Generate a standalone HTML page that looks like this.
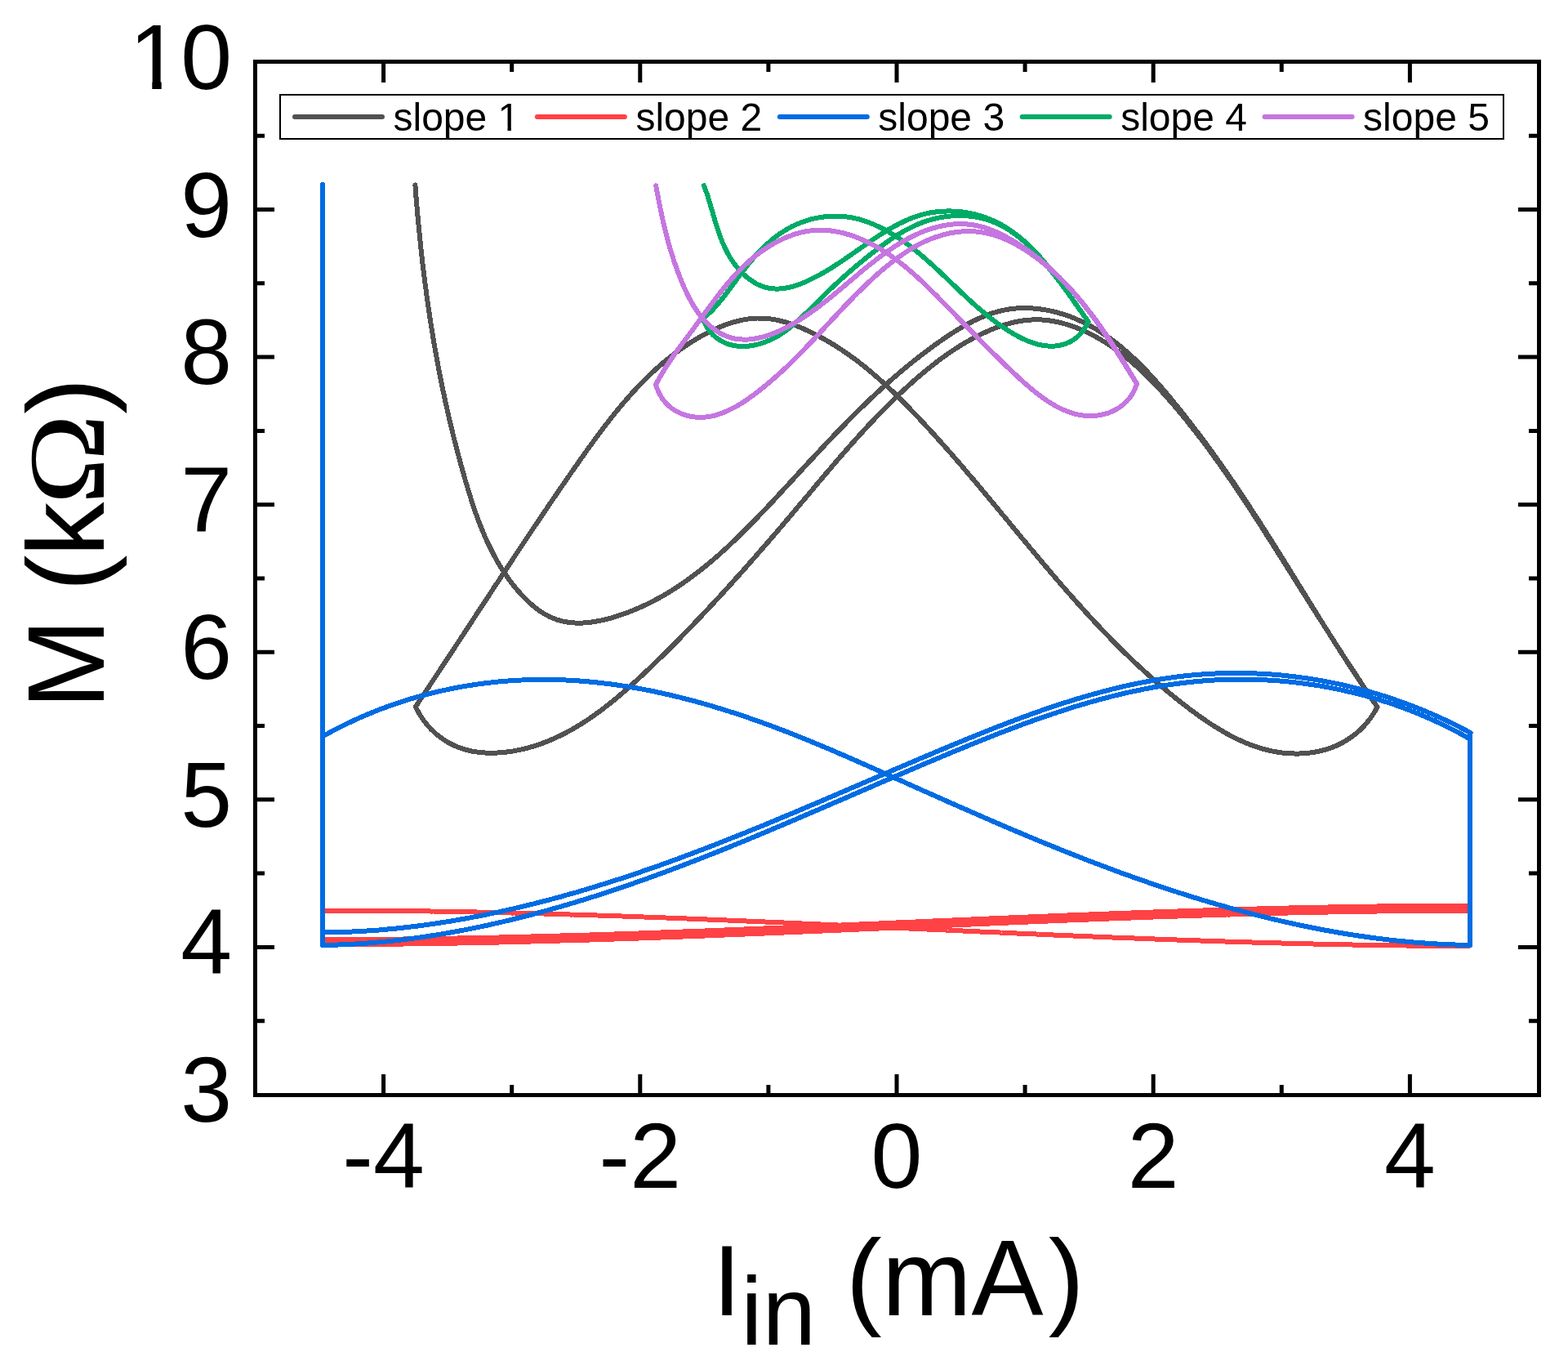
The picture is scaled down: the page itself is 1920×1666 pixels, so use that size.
<!DOCTYPE html>
<html><head><meta charset="utf-8"><style>
html,body{margin:0;padding:0;background:#fff;}
svg{display:block;}
text{font-family:"Liberation Sans",Arial,sans-serif;fill:#000;}
</style></head><body>
<svg xmlns="http://www.w3.org/2000/svg" width="1920" height="1666" viewBox="0 0 1920 1666">
<rect width="1920" height="1666" fill="#fff"/>
<defs><clipPath id="nofoot"><path clip-rule="evenodd" d="M0 0H1920V1666H0Z M150 99.7H186.3V113H150Z M197.7 99.7H220V113H197.7Z M610 155.6H621.5V161H610Z M625.9 155.6H636V161H625.9Z"/></clipPath></defs>
<g fill="none" stroke-linecap="round" stroke-linejoin="round" shape-rendering="crispEdges">
<path d="M508.4 226.5L508.6 229.5L508.8 232.5L509.1 235.4L509.3 238.4L509.5 241.4L509.8 244.4L510.0 247.4L510.3 250.3L510.5 253.3L510.8 256.3L511.0 259.3L511.3 262.3L511.6 265.3L511.8 268.2L512.1 271.2L512.4 274.2L512.7 277.2L513.0 280.2L513.3 283.2L513.6 286.2L513.9 289.2L514.2 292.2L514.5 295.1L514.8 298.1L515.1 301.1L515.4 304.1L515.7 307.1L516.1 310.1L516.4 313.1L516.8 316.1L517.1 319.1L517.4 322.1L517.8 325.0L518.2 328.0L518.5 331.0L518.9 334.0L519.3 337.0L519.6 340.0L520.0 343.0L520.4 346.0L520.8 349.0L521.2 351.9L521.6 354.9L522.0 357.9L522.4 360.9L522.8 363.9L523.2 366.9L523.6 369.8L524.1 372.8L524.5 375.8L524.9 378.8L525.4 381.8L525.8 384.7L526.3 387.7L526.7 390.7L527.2 393.7L527.6 396.6L528.1 399.6L528.6 402.6L529.1 405.5L529.6 408.5L530.0 411.5L530.5 414.4L531.0 417.4L531.5 420.4L532.1 423.3L532.6 426.3L533.1 429.2L533.6 432.2L534.1 435.1L534.7 438.1L535.2 441.0L535.8 444.0L536.3 446.9L536.9 449.9L537.4 452.8L538.0 455.8L538.6 458.7L539.2 461.6L539.7 464.6L540.3 467.5L540.9 470.4L541.5 473.3L542.1 476.3L542.7 479.2L543.4 482.1L544.0 485.0L544.6 488.0L545.2 490.9L545.9 493.8L546.5 496.7L547.2 499.6L547.8 502.5L548.5 505.4L549.1 508.3L549.8 511.3L550.5 514.2L551.2 517.1L551.9 520.0L552.6 522.9L553.3 525.8L554.0 528.7L554.7 531.6L555.4 534.5L556.1 537.4L556.9 540.3L557.6 543.2L558.3 546.1L559.1 549.0L559.9 551.9L560.6 554.8L561.4 557.6L562.2 560.5L562.9 563.4L563.7 566.3L564.5 569.2L565.3 572.1L566.1 575.0L566.9 577.9L567.8 580.8L568.6 583.7L569.4 586.6L570.3 589.5L571.1 592.4L572.0 595.3L572.8 598.1L573.7 601.0L574.6 603.9L575.5 606.8L576.4 609.7L577.3 612.5L578.2 615.4L579.2 618.3L580.1 621.1L581.1 624.0L582.1 626.9L583.1 629.7L584.1 632.5L585.2 635.4L586.2 638.2L587.3 641.0L588.4 643.8L589.5 646.6L590.7 649.4L591.8 652.2L593.0 655.0L594.2 657.7L595.4 660.5L596.7 663.2L598.0 666.0L599.3 668.7L600.6 671.4L602.0 674.1L603.3 676.8L604.7 679.4L606.2 682.1L607.6 684.7L609.1 687.4L610.7 690.0L612.2 692.6L613.8 695.2L615.4 697.7L617.1 700.3L618.8 702.8L620.5 705.3L622.3 707.8L624.0 710.3L625.9 712.8L627.7 715.2L629.6 717.6L631.6 720.0L633.6 722.4L635.6 724.7L637.6 727.0L639.7 729.3L641.8 731.5L644.0 733.7L646.2 735.8L648.4 737.9L650.7 739.9L653.0 741.8L655.3 743.7L657.7 745.5L660.1 747.3L662.5 748.9L665.0 750.5L667.5 752.0L670.0 753.4L672.6 754.7L675.2 755.9L677.8 757.0L680.4 758.0L683.1 758.9L685.9 759.7L688.6 760.4L691.4 761.0L694.2 761.5L697.0 761.9L699.8 762.2L702.7 762.4L705.6 762.6L708.5 762.6L711.4 762.6L714.3 762.5L717.3 762.3L720.2 762.0L723.2 761.7L726.1 761.3L729.1 760.8L732.0 760.3L735.0 759.7L738.0 759.1L740.9 758.4L743.9 757.7L746.8 756.9L749.8 756.1L752.7 755.2L755.6 754.3L758.5 753.3L761.4 752.3L764.3 751.3L767.2 750.3L770.0 749.2L772.8 748.1L775.6 747.0L778.4 745.8L781.2 744.6L784.0 743.4L786.7 742.2L789.4 740.9L792.1 739.6L794.8 738.3L797.5 737.0L800.2 735.6L802.8 734.2L805.4 732.8L808.1 731.3L810.7 729.9L813.2 728.4L815.8 726.9L818.4 725.3L820.9 723.8L823.5 722.2L826.0 720.6L828.5 719.0L831.0 717.3L833.5 715.7L835.9 714.0L838.4 712.3L840.8 710.6L843.3 708.8L845.7 707.1L848.1 705.3L850.5 703.5L852.9 701.7L855.2 699.9L857.6 698.0L859.9 696.2L862.3 694.3L864.6 692.4L866.9 690.5L869.2 688.6L871.5 686.6L873.8 684.7L876.1 682.7L878.4 680.8L880.6 678.8L882.9 676.8L885.1 674.7L887.4 672.7L889.6 670.7L891.8 668.6L894.0 666.6L896.2 664.5L898.4 662.4L900.6 660.3L902.8 658.2L905.0 656.1L907.1 654.0L909.3 651.9L911.4 649.7L913.6 647.6L915.7 645.4L917.9 643.3L920.0 641.1L922.1 638.9L924.2 636.8L926.3 634.6L928.4 632.4L930.5 630.2L932.6 628.0L934.7 625.8L936.8 623.6L938.9 621.4L941.0 619.2L943.0 617.0L945.1 614.8L947.2 612.6L949.3 610.3L951.3 608.1L953.4 605.9L955.4 603.7L957.5 601.5L959.5 599.2L961.6 597.0L963.6 594.8L965.7 592.6L967.7 590.4L969.8 588.2L971.8 586.0L973.8 583.7L975.9 581.5L977.9 579.3L980.0 577.1L982.0 574.9L984.0 572.7L986.1 570.5L988.1 568.3L990.1 566.1L992.2 563.9L994.2 561.7L996.3 559.5L998.3 557.3L1000.3 555.1L1002.4 553.0L1004.4 550.8L1006.5 548.6L1008.5 546.4L1010.5 544.2L1012.6 542.1L1014.6 539.9L1016.7 537.7L1018.8 535.6L1020.8 533.4L1022.9 531.3L1024.9 529.1L1027.0 527.0L1029.1 524.8L1031.2 522.7L1033.2 520.6L1035.3 518.5L1037.4 516.3L1039.5 514.2L1041.6 512.1L1043.7 510.0L1045.8 507.9L1047.9 505.8L1050.0 503.7L1052.1 501.6L1054.2 499.5L1056.4 497.4L1058.5 495.4L1060.6 493.3L1062.8 491.2L1064.9 489.2L1067.1 487.1L1069.3 485.1L1071.4 483.1L1073.6 481.0L1075.8 479.0L1078.0 477.0L1080.2 475.0L1082.4 473.0L1084.6 471.0L1086.8 469.0L1089.1 467.0L1091.3 465.0L1093.5 463.1L1095.8 461.1L1098.1 459.2L1100.3 457.2L1102.6 455.3L1104.9 453.3L1107.2 451.4L1109.5 449.5L1111.8 447.6L1114.2 445.7L1116.5 443.8L1118.8 441.9L1121.2 440.1L1123.6 438.2L1126.0 436.3L1128.3 434.5L1130.7 432.7L1133.2 430.8L1135.6 429.0L1138.0 427.2L1140.5 425.4L1142.9 423.6L1145.4 421.8L1147.9 420.1L1150.4 418.3L1152.9 416.5L1155.4 414.8L1157.9 413.1L1160.5 411.4L1163.0 409.7L1165.6 408.0L1168.2 406.4L1170.7 404.8L1173.4 403.2L1176.0 401.6L1178.6 400.1L1181.2 398.6L1183.9 397.1L1186.6 395.7L1189.3 394.3L1191.9 392.9L1194.7 391.6L1197.4 390.4L1200.1 389.1L1202.8 388.0L1205.6 386.8L1208.4 385.8L1211.2 384.7L1214.0 383.8L1216.8 382.9L1219.6 382.0L1222.4 381.2L1225.3 380.5L1228.1 379.9L1231.0 379.3L1233.9 378.7L1236.8 378.3L1239.7 377.9L1242.6 377.6L1245.6 377.4L1248.5 377.2L1251.5 377.1L1254.4 377.1L1257.4 377.1L1260.3 377.2L1263.3 377.3L1266.3 377.6L1269.3 377.8L1272.2 378.2L1275.2 378.6L1278.1 379.0L1281.1 379.5L1284.0 380.1L1287.0 380.7L1289.9 381.4L1292.8 382.1L1295.8 382.9L1298.6 383.7L1301.5 384.6L1304.4 385.5L1307.2 386.5L1310.1 387.5L1312.9 388.6L1315.7 389.7L1318.5 390.9L1321.2 392.1L1323.9 393.3L1326.6 394.6L1329.3 395.9L1332.0 397.3L1334.6 398.7L1337.2 400.1L1339.8 401.6L1342.4 403.1L1344.9 404.7L1347.4 406.2L1349.9 407.9L1352.4 409.5L1354.9 411.2L1357.3 412.9L1359.7 414.6L1362.1 416.4L1364.5 418.2L1366.9 420.0L1369.2 421.9L1371.6 423.8L1373.9 425.7L1376.2 427.6L1378.4 429.6L1380.7 431.6L1383.0 433.6L1385.2 435.6L1387.4 437.7L1389.6 439.7L1391.8 441.8L1393.9 443.9L1396.1 446.1L1398.2 448.2L1400.4 450.4L1402.5 452.6L1404.6 454.8L1406.7 457.0L1408.7 459.2L1410.8 461.5L1412.8 463.7L1414.9 466.0L1416.9 468.3L1418.9 470.5L1420.9 472.8L1422.9 475.1L1424.9 477.5L1426.9 479.8L1428.8 482.1L1430.8 484.4L1432.7 486.8L1434.7 489.1L1436.6 491.4L1438.5 493.8L1440.4 496.1L1442.3 498.5L1444.2 500.9L1446.1 503.2L1448.0 505.6L1449.9 507.9L1451.7 510.3L1453.6 512.7L1455.5 515.0L1457.3 517.4L1459.1 519.8L1461.0 522.2L1462.8 524.6L1464.6 527.0L1466.4 529.3L1468.2 531.7L1470.0 534.1L1471.8 536.5L1473.6 538.9L1475.4 541.3L1477.2 543.7L1479.0 546.2L1480.7 548.6L1482.5 551.0L1484.2 553.4L1486.0 555.8L1487.7 558.3L1489.5 560.7L1491.2 563.1L1492.9 565.5L1494.6 568.0L1496.3 570.4L1498.1 572.9L1499.8 575.3L1501.5 577.8L1503.2 580.2L1504.9 582.7L1506.6 585.1L1508.2 587.6L1509.9 590.0L1511.6 592.5L1513.3 595.0L1514.9 597.4L1516.6 599.9L1518.3 602.4L1519.9 604.9L1521.6 607.3L1523.2 609.8L1524.9 612.3L1526.5 614.8L1528.2 617.3L1529.8 619.8L1531.4 622.3L1533.1 624.8L1534.7 627.3L1536.3 629.8L1537.9 632.3L1539.6 634.8L1541.2 637.3L1542.8 639.8L1544.4 642.4L1546.0 644.9L1547.6 647.4L1549.3 649.9L1550.9 652.5L1552.5 655.0L1554.1 657.5L1555.7 660.1L1557.3 662.6L1558.9 665.1L1560.5 667.7L1562.1 670.2L1563.7 672.8L1565.3 675.3L1566.9 677.9L1568.4 680.4L1570.0 683.0L1571.6 685.5L1573.2 688.1L1574.8 690.6L1576.4 693.2L1578.0 695.7L1579.6 698.3L1581.1 700.9L1582.7 703.4L1584.3 706.0L1585.9 708.5L1587.5 711.1L1589.1 713.7L1590.6 716.2L1592.2 718.8L1593.8 721.4L1595.4 723.9L1597.0 726.5L1598.6 729.0L1600.2 731.6L1601.7 734.2L1603.3 736.7L1604.9 739.3L1606.5 741.9L1608.1 744.4L1609.7 747.0L1611.3 749.5L1612.8 752.1L1614.4 754.7L1616.0 757.2L1617.6 759.8L1619.2 762.3L1620.8 764.9L1622.4 767.4L1624.0 770.0L1625.6 772.5L1627.2 775.1L1628.8 777.6L1630.4 780.2L1632.0 782.7L1633.6 785.3L1635.2 787.8L1636.9 790.4L1638.5 792.9L1640.1 795.4L1641.7 798.0L1643.3 800.5L1644.9 803.0L1646.6 805.6L1648.2 808.1L1649.8 810.6L1651.5 813.1L1653.1 815.7L1654.7 818.2L1656.4 820.7L1658.0 823.2L1659.7 825.7L1661.3 828.2L1663.0 830.7L1664.6 833.2L1666.3 835.7L1668.0 838.2L1669.6 840.7L1671.3 843.2L1673.0 845.7L1674.6 848.1L1676.3 850.6L1678.0 853.1L1679.7 855.6L1681.4 858.0L1683.1 860.5L1684.8 862.9L1686.5 865.4" stroke="#515151" stroke-width="6"/>
<path d="M1686.5 865.4L1685.0 868.1L1683.5 870.8L1681.9 873.5L1680.2 876.0L1678.5 878.6L1676.6 881.0L1674.8 883.4L1672.8 885.7L1670.8 888.0L1668.7 890.2L1666.6 892.4L1664.4 894.4L1662.1 896.4L1659.8 898.4L1657.5 900.2L1655.0 902.0L1652.6 903.7L1650.1 905.4L1647.6 907.0L1645.0 908.4L1642.4 909.9L1639.7 911.2L1637.0 912.5L1634.3 913.6L1631.5 914.7L1628.7 915.8L1625.9 916.7L1623.1 917.6L1620.2 918.4L1617.3 919.1L1614.4 919.8L1611.5 920.3L1608.6 920.9L1605.6 921.3L1602.7 921.7L1599.7 922.0L1596.7 922.2L1593.8 922.4L1590.8 922.5L1587.8 922.5L1584.8 922.5L1581.8 922.4L1578.8 922.3L1575.9 922.1L1572.9 921.8L1570.0 921.5L1567.0 921.1L1564.1 920.6L1561.2 920.1L1558.3 919.6L1555.4 918.9L1552.5 918.3L1549.7 917.6L1546.8 916.8L1544.0 916.0L1541.1 915.1L1538.3 914.2L1535.5 913.2L1532.8 912.2L1530.0 911.2L1527.2 910.1L1524.5 908.9L1521.7 907.7L1519.0 906.5L1516.3 905.3L1513.6 904.0L1510.9 902.6L1508.2 901.3L1505.6 899.9L1502.9 898.4L1500.3 897.0L1497.7 895.5L1495.1 893.9L1492.5 892.4L1489.9 890.8L1487.3 889.2L1484.7 887.6L1482.2 885.9L1479.6 884.2L1477.1 882.5L1474.6 880.8L1472.0 879.1L1469.5 877.3L1467.0 875.5L1464.6 873.7L1462.1 871.9L1459.6 870.1L1457.2 868.3L1454.8 866.4L1452.3 864.6L1449.9 862.7L1447.5 860.9L1445.1 859.0L1442.7 857.1L1440.4 855.2L1438.0 853.3L1435.7 851.4L1433.3 849.5L1431.0 847.5L1428.7 845.6L1426.4 843.7L1424.0 841.7L1421.8 839.8L1419.5 837.8L1417.2 835.9L1414.9 833.9L1412.7 831.9L1410.4 829.9L1408.2 827.9L1405.9 825.9L1403.7 823.9L1401.5 821.9L1399.3 819.9L1397.1 817.9L1394.9 815.9L1392.7 813.8L1390.5 811.8L1388.4 809.7L1386.2 807.7L1384.0 805.6L1381.9 803.5L1379.8 801.5L1377.6 799.4L1375.5 797.3L1373.4 795.2L1371.3 793.1L1369.1 791.0L1367.0 788.9L1364.9 786.8L1362.9 784.7L1360.8 782.6L1358.7 780.4L1356.6 778.3L1354.5 776.2L1352.5 774.0L1350.4 771.9L1348.4 769.7L1346.3 767.5L1344.3 765.4L1342.2 763.2L1340.2 761.0L1338.2 758.8L1336.1 756.7L1334.1 754.5L1332.1 752.3L1330.1 750.1L1328.1 747.9L1326.1 745.7L1324.1 743.4L1322.1 741.2L1320.1 739.0L1318.1 736.8L1316.1 734.5L1314.1 732.3L1312.1 730.1L1310.2 727.8L1308.2 725.6L1306.2 723.3L1304.3 721.1L1302.3 718.8L1300.3 716.6L1298.4 714.3L1296.4 712.0L1294.5 709.8L1292.5 707.5L1290.6 705.2L1288.6 702.9L1286.7 700.7L1284.7 698.4L1282.8 696.1L1280.8 693.8L1278.9 691.5L1277.0 689.2L1275.0 686.9L1273.1 684.6L1271.2 682.3L1269.2 680.0L1267.3 677.7L1265.4 675.4L1263.5 673.1L1261.5 670.8L1259.6 668.5L1257.7 666.2L1255.8 663.9L1253.9 661.6L1251.9 659.3L1250.0 657.0L1248.1 654.6L1246.2 652.3L1244.3 650.0L1242.4 647.7L1240.4 645.4L1238.5 643.1L1236.6 640.8L1234.7 638.4L1232.8 636.1L1230.9 633.8L1228.9 631.5L1227.0 629.2L1225.1 626.9L1223.2 624.5L1221.3 622.2L1219.4 619.9L1217.4 617.6L1215.5 615.3L1213.6 613.0L1211.7 610.7L1209.7 608.4L1207.8 606.0L1205.9 603.7L1204.0 601.4L1202.0 599.1L1200.1 596.8L1198.2 594.5L1196.2 592.2L1194.3 589.9L1192.4 587.6L1190.4 585.3L1188.5 583.0L1186.5 580.8L1184.6 578.5L1182.6 576.2L1180.7 573.9L1178.7 571.6L1176.8 569.3L1174.8 567.1L1172.8 564.8L1170.9 562.5L1168.9 560.3L1166.9 558.0L1165.0 555.7L1163.0 553.5L1161.0 551.2L1159.0 549.0L1157.0 546.7L1155.0 544.5L1153.0 542.2L1151.0 540.0L1149.0 537.8L1147.0 535.5L1145.0 533.3L1143.0 531.1L1141.0 528.9L1139.0 526.7L1136.9 524.5L1134.9 522.3L1132.9 520.1L1130.8 517.9L1128.8 515.7L1126.7 513.5L1124.7 511.3L1122.6 509.1L1120.6 507.0L1118.5 504.8L1116.4 502.7L1114.3 500.5L1112.3 498.4L1110.2 496.2L1108.1 494.1L1106.0 492.0L1103.8 489.8L1101.7 487.7L1099.6 485.6L1097.5 483.5L1095.3 481.5L1093.2 479.4L1091.0 477.3L1088.8 475.3L1086.7 473.2L1084.5 471.2L1082.3 469.2L1080.1 467.2L1077.9 465.2L1075.6 463.2L1073.4 461.2L1071.1 459.3L1068.9 457.3L1066.6 455.4L1064.3 453.5L1062.0 451.6L1059.7 449.7L1057.4 447.8L1055.0 446.0L1052.7 444.2L1050.3 442.3L1047.9 440.5L1045.5 438.7L1043.1 437.0L1040.7 435.2L1038.3 433.5L1035.8 431.8L1033.3 430.1L1030.8 428.4L1028.3 426.8L1025.8 425.1L1023.3 423.5L1020.7 421.9L1018.1 420.4L1015.6 418.8L1012.9 417.3L1010.3 415.8L1007.7 414.3L1005.0 412.9L1002.3 411.4L999.6 410.0L996.9 408.6L994.1 407.3L991.4 406.0L988.6 404.6L985.8 403.4L983.0 402.1L980.1 400.9L977.3 399.8L974.4 398.6L971.5 397.6L968.6 396.6L965.7 395.6L962.8 394.7L959.9 393.8L957.0 393.1L954.0 392.3L951.1 391.7L948.2 391.1L945.2 390.7L942.3 390.2L939.3 389.9L936.4 389.7L933.4 389.5L930.5 389.5L927.6 389.5L924.6 389.6L921.7 389.9L918.8 390.2L915.9 390.5L913.0 391.0L910.1 391.5L907.2 392.1L904.3 392.8L901.5 393.5L898.6 394.3L895.8 395.1L892.9 396.0L890.1 397.0L887.3 398.0L884.5 399.1L881.8 400.2L879.0 401.4L876.3 402.6L873.5 403.9L870.8 405.2L868.2 406.5L865.5 407.9L862.8 409.3L860.2 410.7L857.6 412.1L855.0 413.6L852.4 415.1L849.9 416.6L847.4 418.2L844.9 419.8L842.4 421.4L839.9 423.0L837.5 424.7L835.0 426.3L832.6 428.0L830.2 429.8L827.8 431.5L825.5 433.3L823.1 435.1L820.8 436.9L818.5 438.8L816.2 440.6L813.9 442.5L811.6 444.4L809.4 446.4L807.2 448.3L804.9 450.3L802.7 452.3L800.5 454.3L798.4 456.3L796.2 458.3L794.1 460.4L791.9 462.5L789.8 464.6L787.7 466.7L785.6 468.8L783.6 471.0L781.5 473.1L779.4 475.3L777.4 477.5L775.4 479.7L773.4 481.9L771.4 484.1L769.4 486.4L767.4 488.7L765.4 490.9L763.5 493.2L761.5 495.5L759.6 497.8L757.6 500.1L755.7 502.5L753.8 504.8L751.9 507.2L750.0 509.5L748.1 511.9L746.3 514.3L744.4 516.7L742.5 519.1L740.7 521.5L738.9 523.9L737.0 526.3L735.2 528.7L733.4 531.2L731.6 533.6L729.8 536.0L728.0 538.5L726.2 540.9L724.4 543.4L722.6 545.9L720.8 548.3L719.0 550.8L717.3 553.3L715.5 555.8L713.8 558.2L712.0 560.7L710.3 563.2L708.5 565.7L706.8 568.2L705.0 570.7L703.3 573.2L701.6 575.6L699.8 578.1L698.1 580.6L696.4 583.1L694.7 585.6L693.0 588.1L691.2 590.6L689.5 593.0L687.8 595.5L686.1 598.0L684.4 600.5L682.7 603.0L681.0 605.5L679.3 608.0L677.6 610.4L675.9 612.9L674.2 615.4L672.5 617.9L670.8 620.4L669.2 622.9L667.5 625.3L665.8 627.8L664.1 630.3L662.4 632.8L660.8 635.3L659.1 637.8L657.4 640.3L655.7 642.7L654.1 645.2L652.4 647.7L650.7 650.2L649.1 652.7L647.4 655.2L645.8 657.7L644.1 660.1L642.4 662.6L640.8 665.1L639.1 667.6L637.5 670.1L635.8 672.6L634.2 675.1L632.5 677.5L630.9 680.0L629.2 682.5L627.6 685.0L625.9 687.5L624.3 690.0L622.6 692.5L621.0 694.9L619.4 697.4L617.7 699.9L616.1 702.4L614.4 704.9L612.8 707.4L611.2 709.9L609.5 712.4L607.9 714.9L606.2 717.3L604.6 719.8L603.0 722.3L601.3 724.8L599.7 727.3L598.1 729.8L596.4 732.3L594.8 734.8L593.2 737.3L591.5 739.8L589.9 742.3L588.2 744.8L586.6 747.2L585.0 749.7L583.3 752.2L581.7 754.7L580.1 757.2L578.4 759.7L576.8 762.2L575.2 764.7L573.5 767.2L571.9 769.7L570.2 772.2L568.6 774.7L567.0 777.2L565.3 779.7L563.7 782.2L562.0 784.7L560.4 787.2L558.8 789.7L557.1 792.2L555.5 794.7L553.8 797.2L552.2 799.7L550.5 802.2L548.9 804.7L547.2 807.2L545.6 809.7L543.9 812.2L542.3 814.7L540.6 817.2L539.0 819.8L537.3 822.3L535.7 824.8L534.0 827.3L532.3 829.8L530.7 832.3L529.0 834.8L527.3 837.3L525.7 839.8L524.0 842.4L522.3 844.9L520.7 847.4L519.0 849.9L517.3 852.4L515.6 854.9L513.9 857.4L512.3 860.0L510.6 862.5L508.9 865.0" stroke="#515151" stroke-width="6"/>
<path d="M508.9 865.0L510.3 867.8L511.7 870.6L513.2 873.3L514.8 876.0L516.5 878.6L518.2 881.1L520.1 883.6L521.9 886.0L523.9 888.3L525.9 890.6L528.0 892.8L530.2 894.9L532.4 896.9L534.6 898.9L537.0 900.8L539.3 902.6L541.8 904.3L544.2 906.0L546.7 907.6L549.3 909.1L551.9 910.5L554.5 911.8L557.2 913.0L559.9 914.2L562.7 915.3L565.4 916.2L568.3 917.1L571.1 917.9L573.9 918.7L576.8 919.3L579.7 919.9L582.6 920.3L585.5 920.8L588.5 921.1L591.4 921.4L594.4 921.5L597.4 921.7L600.4 921.7L603.4 921.7L606.4 921.7L609.4 921.5L612.4 921.3L615.3 921.1L618.3 920.8L621.3 920.4L624.3 920.0L627.3 919.6L630.2 919.1L633.2 918.5L636.1 917.9L639.0 917.3L641.9 916.6L644.8 915.9L647.6 915.1L650.5 914.3L653.3 913.5L656.1 912.6L658.9 911.7L661.7 910.7L664.5 909.7L667.2 908.7L670.0 907.6L672.7 906.5L675.4 905.3L678.1 904.2L680.8 903.0L683.4 901.7L686.1 900.4L688.7 899.1L691.4 897.8L694.0 896.4L696.6 895.0L699.2 893.6L701.8 892.1L704.3 890.6L706.9 889.1L709.4 887.6L711.9 886.0L714.5 884.4L717.0 882.8L719.5 881.2L721.9 879.5L724.4 877.8L726.9 876.1L729.3 874.3L731.7 872.6L734.2 870.8L736.6 869.0L739.0 867.2L741.4 865.3L743.8 863.5L746.2 861.6L748.5 859.7L750.9 857.8L753.2 855.9L755.6 854.0L757.9 852.0L760.2 850.0L762.5 848.0L764.8 846.1L767.1 844.0L769.4 842.0L771.7 840.0L774.0 838.0L776.2 835.9L778.5 833.8L780.7 831.8L783.0 829.7L785.2 827.6L787.5 825.5L789.7 823.4L791.9 821.3L794.1 819.2L796.3 817.1L798.5 815.0L800.7 812.9L802.9 810.7L805.1 808.6L807.2 806.5L809.4 804.4L811.6 802.2L813.7 800.1L815.9 798.0L818.0 795.8L820.2 793.7L822.3 791.6L824.4 789.4L826.6 787.3L828.7 785.1L830.8 783.0L832.9 780.9L835.0 778.7L837.1 776.6L839.2 774.4L841.3 772.2L843.4 770.1L845.5 767.9L847.6 765.8L849.7 763.6L851.7 761.4L853.8 759.3L855.9 757.1L857.9 754.9L860.0 752.8L862.0 750.6L864.1 748.4L866.1 746.2L868.2 744.1L870.2 741.9L872.3 739.7L874.3 737.5L876.3 735.3L878.3 733.1L880.4 731.0L882.4 728.8L884.4 726.6L886.4 724.4L888.4 722.2L890.4 720.0L892.4 717.8L894.4 715.6L896.4 713.4L898.4 711.1L900.4 708.9L902.4 706.7L904.4 704.5L906.4 702.3L908.3 700.1L910.3 697.9L912.3 695.6L914.3 693.4L916.2 691.2L918.2 689.0L920.2 686.7L922.1 684.5L924.1 682.3L926.1 680.0L928.0 677.8L930.0 675.5L931.9 673.3L933.9 671.1L935.8 668.8L937.8 666.6L939.7 664.3L941.7 662.1L943.6 659.8L945.6 657.5L947.5 655.3L949.5 653.0L951.4 650.8L953.3 648.5L955.3 646.2L957.2 644.0L959.2 641.7L961.1 639.4L963.0 637.1L965.0 634.9L966.9 632.6L968.8 630.3L970.8 628.0L972.7 625.7L974.6 623.4L976.6 621.1L978.5 618.8L980.4 616.5L982.3 614.3L984.3 612.0L986.2 609.7L988.1 607.4L990.1 605.1L992.0 602.8L993.9 600.5L995.9 598.2L997.8 595.8L999.7 593.5L1001.7 591.2L1003.6 588.9L1005.6 586.6L1007.5 584.3L1009.5 582.0L1011.4 579.7L1013.4 577.5L1015.3 575.2L1017.3 572.9L1019.2 570.6L1021.2 568.3L1023.1 566.0L1025.1 563.7L1027.1 561.4L1029.0 559.2L1031.0 556.9L1033.0 554.6L1035.0 552.3L1037.0 550.1L1039.0 547.8L1040.9 545.6L1042.9 543.3L1044.9 541.0L1047.0 538.8L1049.0 536.6L1051.0 534.3L1053.0 532.1L1055.0 529.9L1057.1 527.7L1059.1 525.4L1061.1 523.2L1063.2 521.0L1065.2 518.8L1067.3 516.6L1069.4 514.5L1071.4 512.3L1073.5 510.1L1075.6 507.9L1077.7 505.8L1079.8 503.6L1081.9 501.5L1084.0 499.4L1086.1 497.2L1088.2 495.1L1090.3 493.0L1092.5 490.9L1094.6 488.8L1096.8 486.7L1098.9 484.7L1101.1 482.6L1103.3 480.5L1105.5 478.5L1107.7 476.5L1109.9 474.4L1112.1 472.4L1114.3 470.4L1116.5 468.4L1118.7 466.4L1121.0 464.5L1123.2 462.5L1125.5 460.5L1127.8 458.6L1130.1 456.7L1132.3 454.8L1134.7 452.9L1137.0 451.0L1139.3 449.1L1141.6 447.3L1144.0 445.4L1146.4 443.6L1148.7 441.8L1151.1 440.0L1153.5 438.2L1156.0 436.5L1158.4 434.7L1160.8 433.0L1163.3 431.3L1165.8 429.6L1168.3 428.0L1170.8 426.3L1173.4 424.7L1175.9 423.1L1178.5 421.6L1181.1 420.0L1183.7 418.5L1186.3 417.0L1188.9 415.5L1191.6 414.1L1194.3 412.6L1197.0 411.3L1199.7 409.9L1202.5 408.6L1205.2 407.3L1208.0 406.0L1210.8 404.8L1213.6 403.6L1216.4 402.4L1219.3 401.3L1222.1 400.3L1225.0 399.3L1227.8 398.3L1230.7 397.4L1233.6 396.6L1236.5 395.8L1239.4 395.0L1242.3 394.3L1245.2 393.7L1248.1 393.2L1251.0 392.7L1253.9 392.3L1256.9 391.9L1259.8 391.7L1262.7 391.5L1265.6 391.4L1268.6 391.3L1271.5 391.3L1274.4 391.4L1277.3 391.6L1280.2 391.9L1283.1 392.2L1286.0 392.6L1288.9 393.0L1291.8 393.6L1294.7 394.1L1297.6 394.8L1300.5 395.5L1303.3 396.3L1306.2 397.1L1309.0 398.0L1311.8 398.9L1314.6 399.9L1317.4 400.9L1320.2 402.0L1323.0 403.2L1325.8 404.4L1328.5 405.6L1331.2 406.9L1333.9 408.2L1336.6 409.6L1339.3 411.0L1342.0 412.4L1344.6 413.9L1347.2 415.4L1349.8 417.0L1352.4 418.5L1355.0 420.1L1357.5 421.8L1360.0 423.5L1362.5 425.2L1365.0 426.9L1367.4 428.7L1369.9 430.4L1372.3 432.2L1374.6 434.1L1377.0 435.9L1379.4 437.8L1381.7 439.7L1384.0 441.7L1386.3 443.6L1388.6 445.6L1390.8 447.6L1393.1 449.6L1395.3 451.6L1397.5 453.7L1399.7 455.7L1401.9 457.8L1404.0 459.9L1406.2 462.0L1408.3 464.2L1410.4 466.3L1412.5 468.5L1414.6 470.7L1416.7 472.9L1418.7 475.1L1420.8 477.3L1422.8 479.5L1424.8 481.7L1426.9 484.0L1428.9 486.2L1430.9 488.5L1432.8 490.8L1434.8 493.1L1436.8 495.3L1438.7 497.6L1440.7 499.9L1442.6 502.2L1444.6 504.5L1446.5 506.8L1448.4 509.2L1450.3 511.5L1452.2 513.8L1454.1 516.2L1455.9 518.5L1457.8 520.8L1459.7 523.2L1461.5 525.6L1463.4 527.9L1465.2 530.3L1467.1 532.7L1468.9 535.0L1470.7 537.4L1472.5 539.8L1474.3 542.2L1476.1 544.6L1477.9 547.0L1479.7 549.4L1481.5 551.8L1483.2 554.2L1485.0 556.6L1486.7 559.1L1488.5 561.5L1490.2 563.9L1492.0 566.3L1493.7 568.8L1495.4 571.2L1497.2 573.7L1498.9 576.1L1500.6 578.6L1502.3 581.0L1504.0 583.5L1505.7 585.9L1507.4 588.4L1509.1 590.9L1510.8 593.3L1512.5 595.8L1514.1 598.3L1515.8 600.8L1517.5 603.3L1519.1 605.8L1520.8 608.2L1522.4 610.7L1524.1 613.2L1525.7 615.7L1527.4 618.2L1529.0 620.7L1530.7 623.2L1532.3 625.7L1533.9 628.2L1535.6 630.8L1537.2 633.3L1538.8 635.8L1540.4 638.3L1542.1 640.8L1543.7 643.3L1545.3 645.9L1546.9 648.4L1548.5 650.9L1550.1 653.4L1551.7 656.0L1553.4 658.5L1555.0 661.0L1556.6 663.5L1558.2 666.1L1559.8 668.6L1561.4 671.1L1563.0 673.7L1564.6 676.2L1566.2 678.8L1567.8 681.3L1569.4 683.8L1571.0 686.4L1572.6 688.9L1574.2 691.4L1575.8 694.0L1577.4 696.5L1579.0 699.1L1580.6 701.6L1582.2 704.1L1583.8 706.7L1585.4 709.2L1587.0 711.8L1588.6 714.3L1590.2 716.8L1591.8 719.4L1593.4 721.9L1595.0 724.4L1596.6 727.0L1598.2 729.5L1599.8 732.1L1601.4 734.6L1603.0 737.1L1604.6 739.7L1606.2 742.2L1607.8 744.7L1609.4 747.3L1611.1 749.8L1612.7 752.4L1614.3 754.9L1615.9 757.4L1617.5 760.0L1619.1 762.5L1620.8 765.0L1622.4 767.5L1624.0 770.1L1625.6 772.6L1627.2 775.1L1628.9 777.7L1630.5 780.2L1632.1 782.7L1633.7 785.2L1635.4 787.8L1637.0 790.3L1638.6 792.8L1640.2 795.3L1641.9 797.9L1643.5 800.4L1645.1 802.9L1646.8 805.4L1648.4 807.9L1650.1 810.4L1651.7 812.9L1653.3 815.5L1655.0 818.0L1656.6 820.5L1658.3 823.0L1659.9 825.5L1661.6 828.0L1663.2 830.5L1664.9 833.0L1666.5 835.5L1668.2 838.0L1669.8 840.5L1671.5 843.0L1673.2 845.5L1674.8 848.0L1676.5 850.5L1678.1 853.0L1679.8 855.5L1681.5 858.0L1683.2 860.4L1684.8 862.9L1686.5 865.4" stroke="#515151" stroke-width="6"/>
<path stroke-linecap="butt" d="M1800.0 1158.0L1797.0 1158.0L1794.0 1158.0L1791.0 1158.0L1788.0 1158.0L1785.0 1158.0L1782.0 1157.9L1779.0 1157.9L1776.0 1157.9L1773.0 1157.9L1770.0 1157.9L1766.9 1157.9L1763.9 1157.8L1760.9 1157.8L1757.9 1157.8L1754.9 1157.8L1751.9 1157.8L1748.9 1157.7L1745.9 1157.7L1742.9 1157.7L1739.9 1157.7L1736.9 1157.6L1733.9 1157.6L1730.9 1157.6L1727.9 1157.5L1724.9 1157.5L1721.9 1157.5L1718.9 1157.4L1715.9 1157.4L1712.9 1157.4L1709.9 1157.3L1706.9 1157.3L1703.9 1157.2L1700.8 1157.2L1697.8 1157.2L1694.8 1157.1L1691.8 1157.1L1688.8 1157.0L1685.8 1157.0L1682.8 1156.9L1679.8 1156.9L1676.8 1156.8L1673.8 1156.8L1670.8 1156.7L1667.8 1156.7L1664.8 1156.6L1661.8 1156.6L1658.8 1156.5L1655.8 1156.5L1652.8 1156.4L1649.8 1156.4L1646.8 1156.3L1643.8 1156.3L1640.8 1156.2L1637.8 1156.1L1634.8 1156.1L1631.8 1156.0L1628.8 1155.9L1625.8 1155.9L1622.8 1155.8L1619.8 1155.8L1616.7 1155.7L1613.7 1155.6L1610.7 1155.6L1607.7 1155.5L1604.7 1155.4L1601.7 1155.3L1598.7 1155.3L1595.7 1155.2L1592.7 1155.1L1589.7 1155.1L1586.7 1155.0L1583.7 1154.9L1580.7 1154.8L1577.7 1154.7L1574.7 1154.7L1571.7 1154.6L1568.7 1154.5L1565.7 1154.4L1562.7 1154.4L1559.7 1154.3L1556.7 1154.2L1553.7 1154.1L1550.7 1154.0L1547.7 1153.9L1544.7 1153.9L1541.7 1153.8L1538.7 1153.7L1535.7 1153.6L1532.7 1153.5L1529.7 1153.4L1526.7 1153.3L1523.7 1153.2L1520.7 1153.1L1517.7 1153.1L1514.7 1153.0L1511.7 1152.9L1508.7 1152.8L1505.6 1152.7L1502.6 1152.6L1499.6 1152.5L1496.6 1152.4L1493.6 1152.3L1490.6 1152.2L1487.6 1152.1L1484.6 1152.0L1481.6 1151.9L1478.6 1151.8L1475.6 1151.7L1472.6 1151.6L1469.6 1151.5L1466.6 1151.4L1463.6 1151.3L1460.6 1151.2L1457.6 1151.1L1454.6 1151.0L1451.6 1150.9L1448.6 1150.8L1445.6 1150.7L1442.6 1150.6L1439.6 1150.4L1436.6 1150.3L1433.6 1150.2L1430.6 1150.1L1427.6 1150.0L1424.6 1149.9L1421.6 1149.8L1418.6 1149.7L1415.6 1149.6L1412.6 1149.4L1409.6 1149.3L1406.6 1149.2L1403.6 1149.1L1400.6 1149.0L1397.6 1148.9L1394.6 1148.8L1391.6 1148.6L1388.6 1148.5L1385.6 1148.4L1382.6 1148.3L1379.6 1148.2L1376.6 1148.1L1373.6 1147.9L1370.6 1147.8L1367.6 1147.7L1364.6 1147.6L1361.6 1147.5L1358.6 1147.3L1355.6 1147.2L1352.6 1147.1L1349.6 1147.0L1346.6 1146.9L1343.6 1146.7L1340.6 1146.6L1337.6 1146.5L1334.6 1146.4L1331.6 1146.2L1328.6 1146.1L1325.5 1146.0L1322.5 1145.9L1319.5 1145.7L1316.5 1145.6L1313.5 1145.5L1310.5 1145.4L1307.5 1145.2L1304.5 1145.1L1301.5 1145.0L1298.5 1144.8L1295.5 1144.7L1292.5 1144.6L1289.5 1144.5L1286.5 1144.3L1283.5 1144.2L1280.5 1144.1L1277.5 1143.9L1274.5 1143.8L1271.5 1143.7L1268.5 1143.5L1265.5 1143.4L1262.5 1143.3L1259.5 1143.1L1256.5 1143.0L1253.5 1142.9L1250.5 1142.7L1247.5 1142.6L1244.5 1142.5L1241.5 1142.3L1238.5 1142.2L1235.5 1142.1L1232.5 1141.9L1229.5 1141.8L1226.5 1141.7L1223.5 1141.5L1220.5 1141.4L1217.5 1141.3L1214.5 1141.1L1211.5 1141.0L1208.5 1140.9L1205.5 1140.7L1202.5 1140.6L1199.5 1140.5L1196.5 1140.3L1193.5 1140.2L1190.5 1140.0L1187.5 1139.9L1184.5 1139.8L1181.5 1139.6L1178.5 1139.5L1175.5 1139.4L1172.5 1139.2L1169.5 1139.1L1166.5 1138.9L1163.5 1138.8L1160.5 1138.7L1157.5 1138.5L1154.5 1138.4L1151.5 1138.3L1148.5 1138.1L1145.5 1138.0L1142.5 1137.8L1139.5 1137.7L1136.5 1137.6L1133.5 1137.4L1130.5 1137.3L1127.5 1137.2L1124.5 1137.0L1121.5 1136.9L1118.5 1136.7L1115.5 1136.6L1112.5 1136.5L1109.5 1136.3L1106.5 1136.2L1103.5 1136.0L1100.5 1135.9L1097.5 1135.8L1094.5 1135.6L1091.5 1135.5L1088.5 1135.3L1085.5 1135.2L1082.5 1135.1L1079.5 1134.9L1076.5 1134.8L1073.5 1134.7L1070.5 1134.5L1067.5 1134.4L1064.5 1134.2L1061.5 1134.1L1058.5 1134.0L1055.5 1133.8L1052.5 1133.7L1049.5 1133.6L1046.5 1133.4L1043.5 1133.3L1040.5 1133.1L1037.5 1133.0L1034.5 1132.9L1031.5 1132.7L1028.5 1132.6L1025.5 1132.5L1022.5 1132.3L1019.5 1132.2L1016.5 1132.0L1013.5 1131.9L1010.5 1131.8L1007.5 1131.6L1004.5 1131.5L1001.5 1131.4L998.5 1131.2L995.5 1131.1L992.5 1131.0L989.5 1130.8L986.5 1130.7L983.5 1130.6L980.5 1130.4L977.5 1130.3L974.5 1130.2L971.5 1130.0L968.5 1129.9L965.5 1129.8L962.5 1129.6L959.5 1129.5L956.5 1129.4L953.5 1129.2L950.5 1129.1L947.4 1129.0L944.4 1128.8L941.4 1128.7L938.4 1128.6L935.4 1128.4L932.4 1128.3L929.4 1128.2L926.4 1128.0L923.4 1127.9L920.4 1127.8L917.4 1127.7L914.4 1127.5L911.4 1127.4L908.4 1127.3L905.4 1127.2L902.4 1127.0L899.4 1126.9L896.4 1126.8L893.4 1126.6L890.4 1126.5L887.4 1126.4L884.4 1126.3L881.4 1126.1L878.4 1126.0L875.4 1125.9L872.4 1125.8L869.4 1125.7L866.4 1125.5L863.4 1125.4L860.4 1125.3L857.4 1125.2L854.4 1125.0L851.4 1124.9L848.4 1124.8L845.4 1124.7L842.4 1124.6L839.4 1124.4L836.4 1124.3L833.4 1124.2L830.4 1124.1L827.4 1124.0L824.4 1123.9L821.4 1123.7L818.4 1123.6L815.4 1123.5L812.4 1123.4L809.4 1123.3L806.4 1123.2L803.4 1123.1L800.4 1122.9L797.4 1122.8L794.4 1122.7L791.4 1122.6L788.4 1122.5L785.4 1122.4L782.4 1122.3L779.4 1122.2L776.4 1122.1L773.4 1122.0L770.4 1121.8L767.4 1121.7L764.4 1121.6L761.4 1121.5L758.4 1121.4L755.4 1121.3L752.4 1121.2L749.4 1121.1L746.4 1121.0L743.4 1120.9L740.4 1120.8L737.4 1120.7L734.4 1120.6L731.4 1120.5L728.4 1120.4L725.4 1120.3L722.4 1120.2L719.4 1120.1L716.3 1120.0L713.3 1119.9L710.3 1119.8L707.3 1119.7L704.3 1119.6L701.3 1119.5L698.3 1119.5L695.3 1119.4L692.3 1119.3L689.3 1119.2L686.3 1119.1L683.3 1119.0L680.3 1118.9L677.3 1118.8L674.3 1118.7L671.3 1118.7L668.3 1118.6L665.3 1118.5L662.3 1118.4L659.3 1118.3L656.3 1118.2L653.3 1118.2L650.3 1118.1L647.3 1118.0L644.3 1117.9L641.3 1117.8L638.3 1117.8L635.3 1117.7L632.3 1117.6L629.3 1117.5L626.3 1117.5L623.3 1117.4L620.3 1117.3L617.3 1117.2L614.3 1117.2L611.3 1117.1L608.3 1117.0L605.3 1117.0L602.3 1116.9L599.3 1116.8L596.3 1116.8L593.3 1116.7L590.3 1116.6L587.2 1116.6L584.2 1116.5L581.2 1116.4L578.2 1116.4L575.2 1116.3L572.2 1116.3L569.2 1116.2L566.2 1116.1L563.2 1116.1L560.2 1116.0L557.2 1116.0L554.2 1115.9L551.2 1115.9L548.2 1115.8L545.2 1115.8L542.2 1115.7L539.2 1115.7L536.2 1115.6L533.2 1115.6L530.2 1115.5L527.2 1115.5L524.2 1115.4L521.2 1115.4L518.2 1115.3L515.2 1115.3L512.2 1115.3L509.2 1115.2L506.2 1115.2L503.2 1115.1L500.2 1115.1L497.1 1115.1L494.1 1115.0L491.1 1115.0L488.1 1115.0L485.1 1114.9L482.1 1114.9L479.1 1114.9L476.1 1114.8L473.1 1114.8L470.1 1114.8L467.1 1114.8L464.1 1114.7L461.1 1114.7L458.1 1114.7L455.1 1114.7L452.1 1114.7L449.1 1114.6L446.1 1114.6L443.1 1114.6L440.1 1114.6L437.1 1114.6L434.1 1114.6L431.1 1114.6L428.1 1114.5L425.0 1114.5L422.0 1114.5L419.0 1114.5L416.0 1114.5L413.0 1114.5L410.0 1114.5L407.0 1114.5L404.0 1114.5L401.0 1114.5L398.0 1114.5L395.0 1114.5" stroke="#FF4245" stroke-width="6"/>
<path stroke-linecap="butt" d="M395.0 1153.0L398.0 1153.0L401.0 1153.0L404.0 1153.0L407.0 1153.0L410.0 1153.0L413.0 1153.0L416.0 1153.0L419.0 1153.0L422.0 1153.0L425.0 1153.0L428.1 1152.9L431.1 1152.9L434.1 1152.9L437.1 1152.9L440.1 1152.9L443.1 1152.9L446.1 1152.9L449.1 1152.8L452.1 1152.8L455.1 1152.8L458.1 1152.8L461.1 1152.8L464.1 1152.7L467.1 1152.7L470.1 1152.7L473.1 1152.7L476.1 1152.6L479.1 1152.6L482.1 1152.6L485.1 1152.6L488.1 1152.5L491.1 1152.5L494.1 1152.5L497.2 1152.4L500.2 1152.4L503.2 1152.4L506.2 1152.3L509.2 1152.3L512.2 1152.2L515.2 1152.2L518.2 1152.2L521.2 1152.1L524.2 1152.1L527.2 1152.0L530.2 1152.0L533.2 1151.9L536.2 1151.9L539.2 1151.9L542.2 1151.8L545.2 1151.8L548.2 1151.7L551.2 1151.7L554.2 1151.6L557.2 1151.6L560.2 1151.5L563.2 1151.4L566.2 1151.4L569.2 1151.3L572.2 1151.3L575.2 1151.2L578.2 1151.2L581.2 1151.1L584.3 1151.0L587.3 1151.0L590.3 1150.9L593.3 1150.9L596.3 1150.8L599.3 1150.7L602.3 1150.7L605.3 1150.6L608.3 1150.5L611.3 1150.5L614.3 1150.4L617.3 1150.3L620.3 1150.3L623.3 1150.2L626.3 1150.1L629.3 1150.0L632.3 1150.0L635.3 1149.9L638.3 1149.8L641.3 1149.7L644.3 1149.7L647.3 1149.6L650.3 1149.5L653.3 1149.4L656.3 1149.4L659.3 1149.3L662.3 1149.2L665.3 1149.1L668.3 1149.0L671.3 1149.0L674.3 1148.9L677.3 1148.8L680.3 1148.7L683.3 1148.6L686.3 1148.5L689.3 1148.4L692.3 1148.4L695.3 1148.3L698.3 1148.2L701.4 1148.1L704.4 1148.0L707.4 1147.9L710.4 1147.8L713.4 1147.7L716.4 1147.6L719.4 1147.5L722.4 1147.5L725.4 1147.4L728.4 1147.3L731.4 1147.2L734.4 1147.1L737.4 1147.0L740.4 1146.9L743.4 1146.8L746.4 1146.7L749.4 1146.6L752.4 1146.5L755.4 1146.4L758.4 1146.3L761.4 1146.2L764.4 1146.1L767.4 1146.0L770.4 1145.9L773.4 1145.8L776.4 1145.7L779.4 1145.6L782.4 1145.5L785.4 1145.4L788.4 1145.3L791.4 1145.1L794.4 1145.0L797.4 1144.9L800.4 1144.8L803.4 1144.7L806.4 1144.6L809.4 1144.5L812.4 1144.4L815.4 1144.3L818.4 1144.2L821.4 1144.1L824.4 1143.9L827.4 1143.8L830.4 1143.7L833.4 1143.6L836.4 1143.5L839.4 1143.4L842.4 1143.3L845.4 1143.2L848.4 1143.0L851.4 1142.9L854.4 1142.8L857.4 1142.7L860.4 1142.6L863.4 1142.5L866.4 1142.3L869.4 1142.2L872.4 1142.1L875.4 1142.0L878.4 1141.9L881.5 1141.7L884.5 1141.6L887.5 1141.5L890.5 1141.4L893.5 1141.3L896.5 1141.1L899.5 1141.0L902.5 1140.9L905.5 1140.8L908.5 1140.7L911.5 1140.5L914.5 1140.4L917.5 1140.3L920.5 1140.2L923.5 1140.0L926.5 1139.9L929.5 1139.8L932.5 1139.7L935.5 1139.5L938.5 1139.4L941.5 1139.3L944.5 1139.2L947.5 1139.0L950.5 1138.9L953.5 1138.8L956.5 1138.7L959.5 1138.5L962.5 1138.4L965.5 1138.3L968.5 1138.2L971.5 1138.0L974.5 1137.9L977.5 1137.8L980.5 1137.6L983.5 1137.5L986.5 1137.4L989.5 1137.3L992.5 1137.1L995.5 1137.0L998.5 1136.9L1001.5 1136.7L1004.5 1136.6L1007.5 1136.5L1010.5 1136.4L1013.5 1136.2L1016.5 1136.1L1019.5 1136.0L1022.5 1135.8L1025.5 1135.7L1028.5 1135.6L1031.5 1135.4L1034.5 1135.3L1037.5 1135.2L1040.5 1135.0L1043.5 1134.9L1046.5 1134.8L1049.5 1134.6L1052.5 1134.5L1055.5 1134.4L1058.5 1134.3L1061.5 1134.1L1064.5 1134.0L1067.5 1133.9L1070.5 1133.7L1073.5 1133.6L1076.5 1133.5L1079.5 1133.3L1082.5 1133.2L1085.5 1133.1L1088.5 1132.9L1091.5 1132.8L1094.5 1132.7L1097.5 1132.5L1100.5 1132.4L1103.5 1132.3L1106.5 1132.1L1109.5 1132.0L1112.5 1131.9L1115.5 1131.7L1118.5 1131.6L1121.5 1131.5L1124.5 1131.3L1127.5 1131.2L1130.5 1131.1L1133.5 1130.9L1136.5 1130.8L1139.5 1130.7L1142.5 1130.5L1145.5 1130.4L1148.5 1130.3L1151.5 1130.2L1154.5 1130.0L1157.5 1129.9L1160.5 1129.8L1163.5 1129.6L1166.5 1129.5L1169.5 1129.4L1172.5 1129.2L1175.5 1129.1L1178.5 1129.0L1181.5 1128.8L1184.5 1128.7L1187.5 1128.6L1190.5 1128.4L1193.5 1128.3L1196.5 1128.2L1199.5 1128.1L1202.5 1127.9L1205.5 1127.8L1208.5 1127.7L1211.5 1127.5L1214.6 1127.4L1217.6 1127.3L1220.6 1127.1L1223.6 1127.0L1226.6 1126.9L1229.6 1126.8L1232.6 1126.6L1235.6 1126.5L1238.6 1126.4L1241.6 1126.3L1244.6 1126.1L1247.6 1126.0L1250.6 1125.9L1253.6 1125.7L1256.6 1125.6L1259.6 1125.5L1262.6 1125.4L1265.6 1125.2L1268.6 1125.1L1271.6 1125.0L1274.6 1124.9L1277.6 1124.7L1280.6 1124.6L1283.6 1124.5L1286.6 1124.4L1289.6 1124.2L1292.6 1124.1L1295.6 1124.0L1298.6 1123.9L1301.6 1123.8L1304.6 1123.6L1307.6 1123.5L1310.6 1123.4L1313.6 1123.3L1316.6 1123.2L1319.6 1123.0L1322.6 1122.9L1325.6 1122.8L1328.6 1122.7L1331.6 1122.6L1334.6 1122.4L1337.6 1122.3L1340.6 1122.2L1343.6 1122.1L1346.6 1122.0L1349.6 1121.8L1352.6 1121.7L1355.6 1121.6L1358.6 1121.5L1361.6 1121.4L1364.6 1121.3L1367.6 1121.2L1370.6 1121.0L1373.6 1120.9L1376.6 1120.8L1379.6 1120.7L1382.6 1120.6L1385.6 1120.5L1388.6 1120.4L1391.6 1120.3L1394.6 1120.2L1397.6 1120.0L1400.6 1119.9L1403.6 1119.8L1406.6 1119.7L1409.6 1119.6L1412.6 1119.5L1415.6 1119.4L1418.6 1119.3L1421.6 1119.2L1424.6 1119.1L1427.6 1119.0L1430.6 1118.9L1433.6 1118.8L1436.6 1118.7L1439.6 1118.6L1442.6 1118.5L1445.6 1118.4L1448.6 1118.3L1451.6 1118.2L1454.6 1118.1L1457.7 1118.0L1460.7 1117.9L1463.7 1117.8L1466.7 1117.7L1469.7 1117.6L1472.7 1117.5L1475.7 1117.4L1478.7 1117.3L1481.7 1117.2L1484.7 1117.1L1487.7 1117.0L1490.7 1116.9L1493.7 1116.8L1496.7 1116.7L1499.7 1116.6L1502.7 1116.5L1505.7 1116.5L1508.7 1116.4L1511.7 1116.3L1514.7 1116.2L1517.7 1116.1L1520.7 1116.0L1523.7 1115.9L1526.7 1115.8L1529.7 1115.8L1532.7 1115.7L1535.7 1115.6L1538.7 1115.5L1541.7 1115.4L1544.7 1115.4L1547.7 1115.3L1550.7 1115.2L1553.7 1115.1L1556.7 1115.0L1559.7 1115.0L1562.7 1114.9L1565.7 1114.8L1568.7 1114.7L1571.7 1114.7L1574.7 1114.6L1577.7 1114.5L1580.7 1114.4L1583.7 1114.4L1586.7 1114.3L1589.7 1114.2L1592.7 1114.2L1595.8 1114.1L1598.8 1114.0L1601.8 1114.0L1604.8 1113.9L1607.8 1113.8L1610.8 1113.8L1613.8 1113.7L1616.8 1113.6L1619.8 1113.6L1622.8 1113.5L1625.8 1113.5L1628.8 1113.4L1631.8 1113.3L1634.8 1113.3L1637.8 1113.2L1640.8 1113.2L1643.8 1113.1L1646.8 1113.1L1649.8 1113.0L1652.8 1113.0L1655.8 1112.9L1658.8 1112.9L1661.8 1112.8L1664.8 1112.8L1667.8 1112.7L1670.8 1112.7L1673.8 1112.6L1676.8 1112.6L1679.8 1112.5L1682.8 1112.5L1685.8 1112.5L1688.8 1112.4L1691.9 1112.4L1694.9 1112.3L1697.9 1112.3L1700.9 1112.3L1703.9 1112.2L1706.9 1112.2L1709.9 1112.2L1712.9 1112.1L1715.9 1112.1L1718.9 1112.1L1721.9 1112.0L1724.9 1112.0L1727.9 1112.0L1730.9 1111.9L1733.9 1111.9L1736.9 1111.9L1739.9 1111.9L1742.9 1111.8L1745.9 1111.8L1748.9 1111.8L1751.9 1111.8L1754.9 1111.8L1757.9 1111.7L1760.9 1111.7L1763.9 1111.7L1767.0 1111.7L1770.0 1111.7L1773.0 1111.7L1776.0 1111.7L1779.0 1111.6L1782.0 1111.6L1785.0 1111.6L1788.0 1111.6L1791.0 1111.6L1794.0 1111.6L1797.0 1111.6L1800.0 1111.6" stroke="#FF4245" stroke-width="12"/>
<path d="M395 226V1157M1800 897V1157" stroke="#016CE3" stroke-width="6"/>
<path d="M1800.0 1157.0L1797.0 1157.0L1794.0 1156.9L1791.0 1156.8L1787.9 1156.7L1784.9 1156.6L1781.9 1156.5L1778.9 1156.4L1775.9 1156.3L1772.9 1156.2L1769.9 1156.1L1766.9 1155.9L1763.9 1155.8L1760.9 1155.6L1757.9 1155.4L1754.9 1155.2L1751.9 1155.0L1748.9 1154.8L1745.9 1154.6L1742.9 1154.4L1739.9 1154.2L1736.9 1154.0L1733.9 1153.7L1730.9 1153.5L1727.9 1153.2L1724.9 1152.9L1721.9 1152.6L1719.0 1152.4L1716.0 1152.1L1713.0 1151.8L1710.0 1151.5L1707.0 1151.1L1704.0 1150.8L1701.1 1150.5L1698.1 1150.1L1695.1 1149.8L1692.1 1149.4L1689.1 1149.0L1686.2 1148.7L1683.2 1148.3L1680.2 1147.9L1677.3 1147.5L1674.3 1147.1L1671.3 1146.6L1668.4 1146.2L1665.4 1145.8L1662.4 1145.3L1659.5 1144.9L1656.5 1144.4L1653.5 1144.0L1650.6 1143.5L1647.6 1143.0L1644.7 1142.5L1641.7 1142.0L1638.7 1141.5L1635.8 1141.0L1632.8 1140.5L1629.9 1140.0L1626.9 1139.4L1624.0 1138.9L1621.0 1138.4L1618.1 1137.8L1615.2 1137.2L1612.2 1136.7L1609.3 1136.1L1606.3 1135.5L1603.4 1134.9L1600.5 1134.3L1597.5 1133.7L1594.6 1133.1L1591.6 1132.5L1588.7 1131.9L1585.8 1131.2L1582.8 1130.6L1579.9 1130.0L1577.0 1129.3L1574.1 1128.6L1571.1 1128.0L1568.2 1127.3L1565.3 1126.6L1562.4 1125.9L1559.4 1125.3L1556.5 1124.6L1553.6 1123.9L1550.7 1123.1L1547.8 1122.4L1544.9 1121.7L1542.0 1121.0L1539.0 1120.2L1536.1 1119.5L1533.2 1118.8L1530.3 1118.0L1527.4 1117.2L1524.5 1116.5L1521.6 1115.7L1518.7 1114.9L1515.8 1114.1L1512.9 1113.4L1510.0 1112.6L1507.1 1111.8L1504.2 1111.0L1501.3 1110.1L1498.4 1109.3L1495.5 1108.5L1492.6 1107.7L1489.8 1106.8L1486.9 1106.0L1484.0 1105.2L1481.1 1104.3L1478.2 1103.4L1475.3 1102.6L1472.5 1101.7L1469.6 1100.8L1466.7 1100.0L1463.8 1099.1L1461.0 1098.2L1458.1 1097.3L1455.2 1096.4L1452.3 1095.5L1449.5 1094.6L1446.6 1093.7L1443.7 1092.8L1440.9 1091.8L1438.0 1090.9L1435.1 1090.0L1432.3 1089.1L1429.4 1088.1L1426.6 1087.2L1423.7 1086.2L1420.9 1085.3L1418.0 1084.3L1415.2 1083.3L1412.3 1082.4L1409.5 1081.4L1406.6 1080.4L1403.8 1079.4L1400.9 1078.4L1398.1 1077.5L1395.2 1076.5L1392.4 1075.5L1389.6 1074.5L1386.7 1073.4L1383.9 1072.4L1381.1 1071.4L1378.2 1070.4L1375.4 1069.4L1372.6 1068.4L1369.7 1067.3L1366.9 1066.3L1364.1 1065.2L1361.3 1064.2L1358.4 1063.2L1355.6 1062.1L1352.8 1061.0L1350.0 1060.0L1347.2 1058.9L1344.3 1057.9L1341.5 1056.8L1338.7 1055.7L1335.9 1054.6L1333.1 1053.6L1330.3 1052.5L1327.5 1051.4L1324.7 1050.3L1321.9 1049.2L1319.1 1048.1L1316.3 1047.0L1313.5 1045.9L1310.7 1044.8L1307.9 1043.7L1305.1 1042.6L1302.3 1041.5L1299.5 1040.4L1296.7 1039.3L1294.0 1038.1L1291.2 1037.0L1288.4 1035.9L1285.6 1034.7L1282.8 1033.6L1280.0 1032.5L1277.3 1031.3L1274.5 1030.2L1271.7 1029.1L1268.9 1027.9L1266.2 1026.8L1263.4 1025.6L1260.6 1024.4L1257.9 1023.3L1255.1 1022.1L1252.3 1021.0L1249.6 1019.8L1246.8 1018.6L1244.0 1017.5L1241.3 1016.3L1238.5 1015.1L1235.8 1014.0L1233.0 1012.8L1230.2 1011.6L1227.5 1010.4L1224.7 1009.2L1222.0 1008.1L1219.2 1006.9L1216.5 1005.7L1213.7 1004.5L1211.0 1003.3L1208.2 1002.1L1205.5 1000.9L1202.7 999.7L1200.0 998.5L1197.2 997.3L1194.5 996.1L1191.7 994.9L1189.0 993.7L1186.2 992.5L1183.5 991.3L1180.7 990.1L1178.0 988.9L1175.3 987.7L1172.5 986.5L1169.8 985.3L1167.0 984.1L1164.3 982.9L1161.5 981.7L1158.8 980.4L1156.1 979.2L1153.3 978.0L1150.6 976.8L1147.8 975.6L1145.1 974.4L1142.4 973.1L1139.6 971.9L1136.9 970.7L1134.2 969.5L1131.4 968.3L1128.7 967.0L1125.9 965.8L1123.2 964.6L1120.5 963.4L1117.7 962.1L1115.0 960.9L1112.3 959.7L1109.5 958.5L1106.8 957.2L1104.0 956.0L1101.3 954.8L1098.6 953.6L1095.8 952.4L1093.1 951.1L1090.3 949.9L1087.6 948.7L1084.9 947.5L1082.1 946.2L1079.4 945.0L1076.6 943.8L1073.9 942.6L1071.2 941.4L1068.4 940.1L1065.7 938.9L1062.9 937.7L1060.2 936.5L1057.4 935.3L1054.7 934.1L1051.9 932.9L1049.2 931.6L1046.5 930.4L1043.7 929.2L1040.9 928.0L1038.2 926.8L1035.4 925.6L1032.7 924.4L1029.9 923.3L1027.2 922.1L1024.4 920.9L1021.7 919.7L1018.9 918.5L1016.1 917.3L1013.4 916.2L1010.6 915.0L1007.8 913.8L1005.1 912.7L1002.3 911.5L999.5 910.4L996.7 909.2L994.0 908.1L991.2 906.9L988.4 905.8L985.6 904.7L982.8 903.5L980.0 902.4L977.2 901.3L974.5 900.2L971.7 899.1L968.9 898.0L966.1 896.9L963.3 895.8L960.5 894.7L957.6 893.6L954.8 892.6L952.0 891.5L949.2 890.4L946.4 889.4L943.6 888.3L940.8 887.3L937.9 886.2L935.1 885.2L932.3 884.2L929.4 883.2L926.6 882.2L923.8 881.2L920.9 880.2L918.1 879.2L915.2 878.2L912.4 877.2L909.5 876.3L906.7 875.3L903.8 874.4L900.9 873.4L898.1 872.5L895.2 871.6L892.3 870.6L889.5 869.7L886.6 868.8L883.7 867.9L880.8 867.1L877.9 866.2L875.1 865.3L872.2 864.5L869.3 863.6L866.4 862.8L863.5 861.9L860.6 861.1L857.7 860.3L854.8 859.5L851.9 858.7L849.0 857.9L846.1 857.1L843.2 856.4L840.2 855.6L837.3 854.9L834.4 854.1L831.5 853.4L828.6 852.7L825.7 852.0L822.7 851.3L819.8 850.6L816.9 850.0L813.9 849.3L811.0 848.6L808.1 848.0L805.1 847.4L802.2 846.7L799.3 846.1L796.3 845.5L793.4 845.0L790.4 844.4L787.5 843.8L784.5 843.3L781.6 842.7L778.6 842.2L775.7 841.7L772.7 841.2L769.8 840.7L766.8 840.2L763.9 839.8L760.9 839.3L758.0 838.9L755.0 838.4L752.0 838.0L749.1 837.6L746.1 837.2L743.1 836.8L740.2 836.5L737.2 836.1L734.2 835.8L731.3 835.5L728.3 835.1L725.3 834.8L722.3 834.6L719.4 834.3L716.4 834.0L713.4 833.8L710.4 833.6L707.5 833.3L704.5 833.1L701.5 833.0L698.5 832.8L695.6 832.6L692.6 832.5L689.6 832.4L686.6 832.2L683.6 832.1L680.6 832.1L677.7 832.0L674.7 831.9L671.7 831.9L668.7 831.9L665.7 831.9L662.7 831.9L659.7 831.9L656.8 831.9L653.8 832.0L650.8 832.0L647.8 832.1L644.8 832.2L641.8 832.3L638.8 832.5L635.8 832.6L632.9 832.8L629.9 833.0L626.9 833.2L623.9 833.4L620.9 833.6L617.9 833.8L615.0 834.1L612.0 834.3L609.0 834.6L606.0 834.9L603.0 835.3L600.1 835.6L597.1 835.9L594.1 836.3L591.2 836.7L588.2 837.1L585.2 837.5L582.3 837.9L579.3 838.4L576.3 838.8L573.4 839.3L570.4 839.8L567.5 840.3L564.5 840.8L561.6 841.3L558.6 841.9L555.7 842.5L552.7 843.0L549.8 843.6L546.9 844.3L543.9 844.9L541.0 845.5L538.1 846.2L535.2 846.9L532.2 847.6L529.3 848.3L526.4 849.0L523.5 849.8L520.6 850.5L517.7 851.3L514.8 852.1L511.9 852.9L509.0 853.7L506.1 854.6L503.3 855.4L500.4 856.3L497.5 857.2L494.6 858.1L491.8 859.0L488.9 860.0L486.1 860.9L483.2 861.9L480.4 862.9L477.5 863.9L474.7 864.9L471.9 865.9L469.0 867.0L466.2 868.0L463.4 869.1L460.6 870.2L457.8 871.3L455.0 872.5L452.2 873.6L449.4 874.8L446.6 876.0L443.8 877.2L441.1 878.4L438.3 879.6L435.6 880.8L432.8 882.1L430.1 883.4L427.3 884.7L424.6 886.0L421.9 887.3L419.2 888.7L416.4 890.0L413.7 891.4L411.0 892.8L408.3 894.2L405.7 895.6L403.0 897.1L400.3 898.5L397.7 900.0L395.0 901.5" stroke="#016CE3" stroke-width="6"/>
<path d="M395.0 1141.5L398.0 1141.5L401.0 1141.4L404.0 1141.4L407.0 1141.3L410.0 1141.3L413.0 1141.2L416.0 1141.1L419.0 1141.0L421.9 1140.9L424.9 1140.8L427.9 1140.7L430.9 1140.5L433.9 1140.4L436.9 1140.2L439.9 1140.1L442.9 1139.9L445.9 1139.7L448.9 1139.5L451.8 1139.3L454.8 1139.1L457.8 1138.9L460.8 1138.7L463.8 1138.5L466.8 1138.2L469.8 1138.0L472.7 1137.7L475.7 1137.4L478.7 1137.1L481.7 1136.8L484.7 1136.6L487.6 1136.2L490.6 1135.9L493.6 1135.6L496.6 1135.3L499.6 1134.9L502.5 1134.6L505.5 1134.2L508.5 1133.9L511.5 1133.5L514.4 1133.1L517.4 1132.7L520.4 1132.3L523.3 1131.9L526.3 1131.5L529.3 1131.1L532.2 1130.6L535.2 1130.2L538.2 1129.7L541.1 1129.3L544.1 1128.8L547.1 1128.3L550.0 1127.9L553.0 1127.4L556.0 1126.9L558.9 1126.4L561.9 1125.9L564.8 1125.3L567.8 1124.8L570.7 1124.3L573.7 1123.7L576.6 1123.2L579.6 1122.6L582.6 1122.1L585.5 1121.5L588.4 1120.9L591.4 1120.3L594.3 1119.7L597.3 1119.1L600.2 1118.5L603.2 1117.9L606.1 1117.3L609.1 1116.7L612.0 1116.0L614.9 1115.4L617.9 1114.7L620.8 1114.1L623.7 1113.4L626.7 1112.8L629.6 1112.1L632.5 1111.4L635.5 1110.7L638.4 1110.0L641.3 1109.3L644.2 1108.6L647.2 1107.9L650.1 1107.2L653.0 1106.5L655.9 1105.7L658.8 1105.0L661.7 1104.2L664.7 1103.5L667.6 1102.7L670.5 1102.0L673.4 1101.2L676.3 1100.4L679.2 1099.6L682.1 1098.9L685.0 1098.1L687.9 1097.3L690.8 1096.5L693.7 1095.6L696.6 1094.8L699.5 1094.0L702.4 1093.2L705.3 1092.4L708.2 1091.5L711.1 1090.7L714.0 1089.8L716.8 1089.0L719.7 1088.1L722.6 1087.2L725.5 1086.4L728.4 1085.5L731.2 1084.6L734.1 1083.7L737.0 1082.8L739.9 1082.0L742.7 1081.1L745.6 1080.2L748.5 1079.2L751.3 1078.3L754.2 1077.4L757.0 1076.5L759.9 1075.6L762.8 1074.6L765.6 1073.7L768.5 1072.7L771.3 1071.8L774.2 1070.8L777.0 1069.9L779.9 1068.9L782.7 1068.0L785.5 1067.0L788.4 1066.0L791.2 1065.0L794.0 1064.1L796.9 1063.1L799.7 1062.1L802.5 1061.1L805.4 1060.1L808.2 1059.1L811.0 1058.1L813.8 1057.1L816.6 1056.1L819.5 1055.1L822.3 1054.0L825.1 1053.0L827.9 1052.0L830.7 1051.0L833.5 1049.9L836.3 1048.9L839.1 1047.8L841.9 1046.8L844.7 1045.7L847.5 1044.7L850.3 1043.6L853.1 1042.6L855.9 1041.5L858.7 1040.5L861.5 1039.4L864.3 1038.3L867.1 1037.2L869.9 1036.2L872.7 1035.1L875.5 1034.0L878.3 1032.9L881.0 1031.8L883.8 1030.7L886.6 1029.6L889.4 1028.5L892.2 1027.4L894.9 1026.3L897.7 1025.2L900.5 1024.1L903.3 1023.0L906.0 1021.9L908.8 1020.8L911.6 1019.7L914.4 1018.6L917.1 1017.4L919.9 1016.3L922.7 1015.2L925.4 1014.0L928.2 1012.9L931.0 1011.8L933.7 1010.7L936.5 1009.5L939.3 1008.4L942.0 1007.2L944.8 1006.1L947.6 1004.9L950.3 1003.8L953.1 1002.6L955.8 1001.5L958.6 1000.3L961.4 999.2L964.1 998.0L966.9 996.9L969.6 995.7L972.4 994.6L975.2 993.4L977.9 992.2L980.7 991.1L983.4 989.9L986.2 988.7L988.9 987.6L991.7 986.4L994.4 985.2L997.2 984.1L1000.0 982.9L1002.7 981.7L1005.5 980.5L1008.2 979.4L1011.0 978.2L1013.7 977.0L1016.5 975.8L1019.2 974.7L1022.0 973.5L1024.7 972.3L1027.5 971.1L1030.2 969.9L1033.0 968.8L1035.8 967.6L1038.5 966.4L1041.3 965.2L1044.0 964.0L1046.8 962.8L1049.5 961.7L1052.3 960.5L1055.0 959.3L1057.8 958.1L1060.6 956.9L1063.3 955.7L1066.1 954.6L1068.8 953.4L1071.6 952.2L1074.3 951.0L1077.1 949.8L1079.9 948.6L1082.6 947.4L1085.4 946.3L1088.1 945.1L1090.9 943.9L1093.7 942.7L1096.4 941.5L1099.2 940.3L1102.0 939.2L1104.7 938.0L1107.5 936.8L1110.3 935.6L1113.0 934.4L1115.8 933.3L1118.6 932.1L1121.3 930.9L1124.1 929.7L1126.9 928.5L1129.7 927.4L1132.4 926.2L1135.2 925.0L1138.0 923.9L1140.8 922.7L1143.5 921.5L1146.3 920.3L1149.1 919.2L1151.9 918.0L1154.7 916.8L1157.5 915.7L1160.2 914.5L1163.0 913.4L1165.8 912.2L1168.6 911.0L1171.4 909.9L1174.2 908.7L1177.0 907.6L1179.8 906.4L1182.6 905.3L1185.4 904.1L1188.2 903.0L1191.0 901.9L1193.8 900.7L1196.6 899.6L1199.4 898.5L1202.2 897.3L1205.0 896.2L1207.8 895.1L1210.6 894.0L1213.4 892.9L1216.2 891.8L1219.0 890.6L1221.9 889.5L1224.7 888.5L1227.5 887.4L1230.3 886.3L1233.1 885.2L1236.0 884.1L1238.8 883.0L1241.6 882.0L1244.4 880.9L1247.3 879.9L1250.1 878.8L1252.9 877.8L1255.8 876.7L1258.6 875.7L1261.4 874.7L1264.3 873.6L1267.1 872.6L1269.9 871.6L1272.8 870.6L1275.6 869.6L1278.5 868.6L1281.3 867.7L1284.2 866.7L1287.0 865.7L1289.9 864.8L1292.7 863.8L1295.6 862.9L1298.4 861.9L1301.3 861.0L1304.2 860.1L1307.0 859.2L1309.9 858.3L1312.7 857.4L1315.6 856.5L1318.5 855.6L1321.3 854.8L1324.2 853.9L1327.1 853.1L1330.0 852.2L1332.8 851.4L1335.7 850.6L1338.6 849.8L1341.5 849.0L1344.4 848.2L1347.3 847.4L1350.1 846.6L1353.0 845.9L1355.9 845.1L1358.8 844.4L1361.7 843.6L1364.6 842.9L1367.5 842.2L1370.4 841.5L1373.3 840.8L1376.2 840.2L1379.1 839.5L1382.0 838.9L1384.9 838.2L1387.8 837.6L1390.8 837.0L1393.7 836.4L1396.6 835.8L1399.5 835.2L1402.4 834.7L1405.4 834.1L1408.3 833.6L1411.2 833.1L1414.1 832.6L1417.1 832.1L1420.0 831.6L1422.9 831.1L1425.9 830.7L1428.8 830.2L1431.8 829.8L1434.7 829.4L1437.6 829.0L1440.6 828.6L1443.5 828.2L1446.5 827.9L1449.4 827.5L1452.4 827.2L1455.4 826.9L1458.3 826.6L1461.3 826.3L1464.2 826.1L1467.2 825.8L1470.2 825.6L1473.1 825.4L1476.1 825.2L1479.1 825.0L1482.1 824.8L1485.0 824.6L1488.0 824.5L1491.0 824.4L1494.0 824.3L1497.0 824.2L1499.9 824.1L1502.9 824.0L1505.9 824.0L1508.9 824.0L1511.9 824.0L1514.9 824.0L1517.9 824.0L1520.8 824.0L1523.8 824.0L1526.8 824.1L1529.8 824.2L1532.8 824.3L1535.8 824.4L1538.8 824.5L1541.8 824.6L1544.8 824.8L1547.7 825.0L1550.7 825.1L1553.7 825.3L1556.7 825.5L1559.7 825.8L1562.7 826.0L1565.7 826.3L1568.7 826.5L1571.6 826.8L1574.6 827.1L1577.6 827.5L1580.6 827.8L1583.6 828.1L1586.6 828.5L1589.5 828.9L1592.5 829.3L1595.5 829.7L1598.5 830.1L1601.4 830.5L1604.4 831.0L1607.4 831.4L1610.3 831.9L1613.3 832.4L1616.3 832.9L1619.2 833.5L1622.2 834.0L1625.1 834.6L1628.1 835.1L1631.1 835.7L1634.0 836.3L1636.9 836.9L1639.9 837.5L1642.8 838.2L1645.8 838.8L1648.7 839.5L1651.6 840.2L1654.6 840.9L1657.5 841.6L1660.4 842.4L1663.3 843.1L1666.2 843.9L1669.2 844.6L1672.1 845.4L1675.0 846.2L1677.9 847.0L1680.8 847.9L1683.7 848.7L1686.6 849.6L1689.4 850.5L1692.3 851.3L1695.2 852.2L1698.1 853.2L1700.9 854.1L1703.8 855.0L1706.7 856.0L1709.5 857.0L1712.4 858.0L1715.2 859.0L1718.0 860.0L1720.9 861.0L1723.7 862.1L1726.5 863.1L1729.3 864.2L1732.2 865.3L1735.0 866.4L1737.8 867.5L1740.6 868.6L1743.4 869.8L1746.1 870.9L1748.9 872.1L1751.7 873.3L1754.5 874.5L1757.2 875.7L1760.0 876.9L1762.7 878.2L1765.5 879.4L1768.2 880.7L1770.9 882.0L1773.7 883.3L1776.4 884.6L1779.1 885.9L1781.8 887.3L1784.5 888.6L1787.2 890.0L1789.8 891.4L1792.5 892.7L1795.2 894.2L1797.8 895.6L1800.5 897.0" stroke="#016CE3" stroke-width="6"/>
<path d="M395.0 1157.0L398.0 1157.0L401.0 1156.9L404.0 1156.8L407.0 1156.7L410.0 1156.7L413.0 1156.6L416.0 1156.4L419.0 1156.3L422.0 1156.2L425.0 1156.1L428.0 1155.9L431.0 1155.7L434.0 1155.6L437.0 1155.4L440.0 1155.2L443.0 1155.0L446.0 1154.8L449.0 1154.6L452.0 1154.3L455.0 1154.1L457.9 1153.9L460.9 1153.6L463.9 1153.3L466.9 1153.1L469.9 1152.8L472.9 1152.5L475.9 1152.2L478.8 1151.9L481.8 1151.5L484.8 1151.2L487.8 1150.9L490.8 1150.5L493.7 1150.2L496.7 1149.8L499.7 1149.4L502.7 1149.0L505.7 1148.7L508.6 1148.3L511.6 1147.8L514.6 1147.4L517.5 1147.0L520.5 1146.6L523.5 1146.1L526.4 1145.7L529.4 1145.2L532.4 1144.7L535.3 1144.3L538.3 1143.8L541.3 1143.3L544.2 1142.8L547.2 1142.3L550.1 1141.8L553.1 1141.2L556.0 1140.7L559.0 1140.2L562.0 1139.6L564.9 1139.1L567.9 1138.5L570.8 1137.9L573.8 1137.4L576.7 1136.8L579.6 1136.2L582.6 1135.6L585.5 1135.0L588.5 1134.4L591.4 1133.7L594.4 1133.1L597.3 1132.5L600.2 1131.8L603.2 1131.2L606.1 1130.5L609.0 1129.8L612.0 1129.2L614.9 1128.5L617.8 1127.8L620.8 1127.1L623.7 1126.4L626.6 1125.7L629.5 1125.0L632.4 1124.3L635.4 1123.6L638.3 1122.8L641.2 1122.1L644.1 1121.3L647.0 1120.6L649.9 1119.8L652.9 1119.1L655.8 1118.3L658.7 1117.5L661.6 1116.7L664.5 1115.9L667.4 1115.2L670.3 1114.4L673.2 1113.5L676.1 1112.7L679.0 1111.9L681.9 1111.1L684.8 1110.3L687.7 1109.4L690.6 1108.6L693.5 1107.7L696.3 1106.9L699.2 1106.0L702.1 1105.2L705.0 1104.3L707.9 1103.4L710.8 1102.5L713.6 1101.7L716.5 1100.8L719.4 1099.9L722.3 1099.0L725.1 1098.1L728.0 1097.2L730.9 1096.3L733.7 1095.3L736.6 1094.4L739.5 1093.5L742.3 1092.5L745.2 1091.6L748.0 1090.7L750.9 1089.7L753.8 1088.8L756.6 1087.8L759.5 1086.9L762.3 1085.9L765.1 1084.9L768.0 1083.9L770.8 1083.0L773.7 1082.0L776.5 1081.0L779.4 1080.0L782.2 1079.0L785.0 1078.0L787.8 1077.0L790.7 1076.0L793.5 1075.0L796.3 1074.0L799.2 1073.0L802.0 1071.9L804.8 1070.9L807.6 1069.9L810.4 1068.8L813.2 1067.8L816.1 1066.8L818.9 1065.7L821.7 1064.7L824.5 1063.6L827.3 1062.6L830.1 1061.5L832.9 1060.5L835.7 1059.4L838.5 1058.3L841.3 1057.3L844.1 1056.2L846.9 1055.1L849.7 1054.0L852.5 1052.9L855.3 1051.9L858.1 1050.8L860.9 1049.7L863.6 1048.6L866.4 1047.5L869.2 1046.4L872.0 1045.3L874.8 1044.2L877.6 1043.1L880.3 1042.0L883.1 1040.9L885.9 1039.7L888.7 1038.6L891.5 1037.5L894.2 1036.4L897.0 1035.3L899.8 1034.1L902.6 1033.0L905.3 1031.9L908.1 1030.7L910.9 1029.6L913.6 1028.5L916.4 1027.3L919.2 1026.2L921.9 1025.0L924.7 1023.9L927.5 1022.7L930.2 1021.6L933.0 1020.4L935.8 1019.3L938.5 1018.1L941.3 1017.0L944.0 1015.8L946.8 1014.6L949.6 1013.5L952.3 1012.3L955.1 1011.2L957.8 1010.0L960.6 1008.8L963.3 1007.6L966.1 1006.5L968.9 1005.3L971.6 1004.1L974.4 1003.0L977.1 1001.8L979.9 1000.6L982.6 999.4L985.4 998.2L988.1 997.1L990.9 995.9L993.7 994.7L996.4 993.5L999.2 992.3L1001.9 991.2L1004.7 990.0L1007.4 988.8L1010.2 987.6L1012.9 986.4L1015.7 985.2L1018.4 984.0L1021.2 982.8L1023.9 981.6L1026.7 980.5L1029.4 979.3L1032.2 978.1L1035.0 976.9L1037.7 975.7L1040.5 974.5L1043.2 973.3L1046.0 972.1L1048.7 970.9L1051.5 969.7L1054.2 968.5L1057.0 967.3L1059.8 966.2L1062.5 965.0L1065.3 963.8L1068.0 962.6L1070.8 961.4L1073.5 960.2L1076.3 959.0L1079.1 957.8L1081.8 956.6L1084.6 955.4L1087.3 954.2L1090.1 953.1L1092.9 951.9L1095.6 950.7L1098.4 949.5L1101.2 948.3L1103.9 947.1L1106.7 945.9L1109.5 944.7L1112.2 943.6L1115.0 942.4L1117.8 941.2L1120.5 940.0L1123.3 938.8L1126.1 937.7L1128.9 936.5L1131.6 935.3L1134.4 934.1L1137.2 933.0L1140.0 931.8L1142.7 930.6L1145.5 929.4L1148.3 928.3L1151.1 927.1L1153.9 925.9L1156.7 924.8L1159.4 923.6L1162.2 922.4L1165.0 921.3L1167.8 920.1L1170.6 919.0L1173.4 917.8L1176.2 916.7L1179.0 915.5L1181.8 914.4L1184.6 913.2L1187.4 912.1L1190.2 910.9L1193.0 909.8L1195.8 908.7L1198.6 907.5L1201.4 906.4L1204.2 905.3L1207.0 904.2L1209.8 903.1L1212.6 901.9L1215.4 900.8L1218.3 899.7L1221.1 898.6L1223.9 897.5L1226.7 896.4L1229.5 895.4L1232.4 894.3L1235.2 893.2L1238.0 892.1L1240.8 891.1L1243.7 890.0L1246.5 888.9L1249.3 887.9L1252.1 886.8L1255.0 885.8L1257.8 884.8L1260.7 883.7L1263.5 882.7L1266.3 881.7L1269.2 880.7L1272.0 879.7L1274.9 878.7L1277.7 877.7L1280.6 876.7L1283.4 875.8L1286.3 874.8L1289.1 873.8L1292.0 872.9L1294.8 871.9L1297.7 871.0L1300.5 870.1L1303.4 869.1L1306.3 868.2L1309.1 867.3L1312.0 866.4L1314.9 865.5L1317.7 864.6L1320.6 863.8L1323.5 862.9L1326.3 862.1L1329.2 861.2L1332.1 860.4L1335.0 859.5L1337.9 858.7L1340.8 857.9L1343.6 857.1L1346.5 856.3L1349.4 855.6L1352.3 854.8L1355.2 854.0L1358.1 853.3L1361.0 852.5L1363.9 851.8L1366.8 851.1L1369.7 850.4L1372.6 849.7L1375.5 849.0L1378.4 848.3L1381.3 847.7L1384.2 847.0L1387.1 846.4L1390.1 845.8L1393.0 845.2L1395.9 844.6L1398.8 844.0L1401.7 843.4L1404.7 842.8L1407.6 842.3L1410.5 841.7L1413.5 841.2L1416.4 840.7L1419.3 840.2L1422.3 839.7L1425.2 839.2L1428.1 838.8L1431.1 838.3L1434.0 837.9L1437.0 837.5L1439.9 837.1L1442.9 836.7L1445.8 836.3L1448.8 835.9L1451.8 835.6L1454.7 835.2L1457.7 834.9L1460.6 834.6L1463.6 834.3L1466.6 834.0L1469.5 833.8L1472.5 833.5L1475.5 833.3L1478.5 833.1L1481.5 832.9L1484.4 832.7L1487.4 832.5L1490.4 832.4L1493.4 832.2L1496.4 832.1L1499.4 832.0L1502.3 831.9L1505.3 831.8L1508.3 831.7L1511.3 831.7L1514.3 831.7L1517.3 831.6L1520.3 831.6L1523.3 831.6L1526.3 831.7L1529.3 831.7L1532.3 831.8L1535.3 831.8L1538.2 831.9L1541.2 832.0L1544.2 832.1L1547.2 832.3L1550.2 832.4L1553.2 832.6L1556.2 832.8L1559.2 833.0L1562.2 833.2L1565.2 833.4L1568.2 833.6L1571.2 833.9L1574.1 834.2L1577.1 834.4L1580.1 834.7L1583.1 835.1L1586.1 835.4L1589.1 835.7L1592.0 836.1L1595.0 836.5L1598.0 836.9L1601.0 837.3L1604.0 837.7L1606.9 838.1L1609.9 838.6L1612.9 839.0L1615.8 839.5L1618.8 840.0L1621.7 840.5L1624.7 841.1L1627.7 841.6L1630.6 842.2L1633.6 842.8L1636.5 843.4L1639.5 844.0L1642.4 844.6L1645.3 845.2L1648.3 845.9L1651.2 846.6L1654.1 847.2L1657.0 847.9L1660.0 848.7L1662.9 849.4L1665.8 850.1L1668.7 850.9L1671.6 851.7L1674.5 852.5L1677.4 853.3L1680.3 854.1L1683.2 855.0L1686.1 855.8L1689.0 856.7L1691.8 857.6L1694.7 858.5L1697.6 859.4L1700.5 860.3L1703.3 861.3L1706.2 862.2L1709.0 863.2L1711.9 864.2L1714.7 865.2L1717.5 866.3L1720.4 867.3L1723.2 868.4L1726.0 869.5L1728.8 870.5L1731.6 871.7L1734.4 872.8L1737.2 873.9L1740.0 875.1L1742.8 876.2L1745.5 877.4L1748.3 878.6L1751.1 879.9L1753.8 881.1L1756.6 882.3L1759.3 883.6L1762.1 884.9L1764.8 886.2L1767.5 887.5L1770.2 888.8L1772.9 890.2L1775.6 891.5L1778.3 892.9L1781.0 894.3L1783.7 895.7L1786.4 897.1L1789.1 898.6L1791.7 900.0L1794.4 901.5L1797.0 903.0" stroke="#016CE3" stroke-width="6"/>
<path d="M862.0 227.2L863.0 229.8L864.0 232.5L864.9 235.2L865.9 237.9L866.8 240.7L867.6 243.5L868.5 246.3L869.4 249.2L870.2 252.1L871.1 255.0L871.9 257.9L872.8 260.8L873.6 263.8L874.5 266.7L875.3 269.7L876.2 272.6L877.2 275.6L878.1 278.6L879.1 281.5L880.1 284.5L881.1 287.4L882.2 290.3L883.3 293.2L884.4 296.1L885.7 298.9L886.9 301.8L888.2 304.6L889.6 307.3L891.1 310.1L892.6 312.7L894.1 315.4L895.8 318.0L897.5 320.5L899.3 323.0L901.1 325.4L903.1 327.8L905.0 330.1L907.1 332.3L909.1 334.4L911.3 336.5L913.5 338.5L915.7 340.3L918.0 342.1L920.4 343.7L922.8 345.3L925.2 346.7L927.7 348.0L930.2 349.2L932.8 350.2L935.4 351.1L938.0 351.9L940.7 352.5L943.4 353.0L946.1 353.4L948.9 353.5L951.6 353.6L954.4 353.5L957.3 353.3L960.1 352.9L962.9 352.4L965.8 351.9L968.7 351.2L971.5 350.4L974.4 349.5L977.3 348.5L980.2 347.5L983.0 346.4L985.9 345.2L988.7 343.9L991.6 342.6L994.4 341.2L997.2 339.8L1000.0 338.4L1002.7 336.9L1005.5 335.4L1008.2 333.8L1010.8 332.3L1013.5 330.7L1016.1 329.1L1018.7 327.5L1021.2 325.9L1023.8 324.2L1026.3 322.6L1028.8 320.9L1031.3 319.3L1033.8 317.6L1036.3 315.9L1038.7 314.2L1041.2 312.5L1043.6 310.8L1046.1 309.1L1048.5 307.4L1050.9 305.7L1053.4 304.0L1055.8 302.3L1058.2 300.6L1060.7 298.9L1063.1 297.2L1065.6 295.5L1068.1 293.8L1070.6 292.1L1073.1 290.5L1075.6 288.8L1078.1 287.2L1080.7 285.6L1083.2 284.0L1085.8 282.4L1088.4 280.8L1091.0 279.3L1093.6 277.8L1096.3 276.4L1098.9 275.0L1101.6 273.6L1104.3 272.3L1107.0 271.0L1109.7 269.7L1112.5 268.6L1115.3 267.4L1118.0 266.3L1120.8 265.3L1123.7 264.4L1126.5 263.5L1129.4 262.7L1132.3 261.9L1135.2 261.2L1138.1 260.6L1141.0 260.1L1144.0 259.7L1146.9 259.3L1149.9 259.0L1152.9 258.7L1155.9 258.6L1158.9 258.5L1161.9 258.4L1164.9 258.5L1167.9 258.6L1170.9 258.8L1173.9 259.0L1176.9 259.3L1179.9 259.7L1182.9 260.2L1185.8 260.7L1188.8 261.3L1191.7 261.9L1194.6 262.6L1197.5 263.4L1200.4 264.3L1203.3 265.2L1206.1 266.1L1208.9 267.2L1211.7 268.2L1214.4 269.4L1217.2 270.6L1219.8 271.9L1222.5 273.2L1225.1 274.6L1227.7 276.0L1230.2 277.5L1232.7 279.1L1235.2 280.7L1237.7 282.3L1240.1 284.0L1242.5 285.8L1244.8 287.5L1247.1 289.4L1249.5 291.3L1251.7 293.2L1254.0 295.1L1256.2 297.1L1258.4 299.2L1260.6 301.2L1262.7 303.3L1264.8 305.5L1266.9 307.6L1269.0 309.8L1271.1 312.1L1273.1 314.3L1275.1 316.6L1277.1 318.9L1279.1 321.2L1281.1 323.5L1283.0 325.9L1284.9 328.3L1286.8 330.7L1288.7 333.1L1290.6 335.5L1292.5 337.9L1294.3 340.4L1296.1 342.8L1298.0 345.3L1299.8 347.8L1301.6 350.2L1303.4 352.7L1305.1 355.2L1306.9 357.7L1308.7 360.1L1310.4 362.6L1312.2 365.1L1313.9 367.5L1315.6 370.0L1317.3 372.4L1319.1 374.9L1320.8 377.3L1322.5 379.7L1324.2 382.1L1325.9 384.5L1327.6 386.8L1329.3 389.2L1331.0 391.5L1332.7 393.8" stroke="#00AB67" stroke-width="6"/>
<path d="M860.5 390.0L861.7 393.2L863.2 396.2L864.7 399.1L866.4 401.8L868.2 404.3L870.1 406.7L872.1 408.9L874.2 411.0L876.5 412.9L878.8 414.6L881.2 416.2L883.6 417.7L886.2 419.0L888.8 420.1L891.4 421.1L894.1 421.9L896.8 422.6L899.6 423.2L902.4 423.6L905.2 423.8L908.0 424.0L910.8 424.0L913.7 423.9L916.6 423.6L919.5 423.3L922.3 422.8L925.2 422.2L928.1 421.5L930.9 420.7L933.8 419.8L936.6 418.8L939.4 417.7L942.2 416.5L944.9 415.3L947.6 413.9L950.3 412.5L952.9 411.0L955.5 409.4L958.1 407.7L960.6 406.0L963.0 404.2L965.5 402.4L967.9 400.5L970.2 398.6L972.6 396.6L974.9 394.6L977.1 392.6L979.4 390.5L981.6 388.4L983.8 386.3L986.0 384.2L988.2 382.1L990.4 379.9L992.5 377.8L994.7 375.6L996.8 373.5L999.0 371.4L1001.1 369.2L1003.3 367.1L1005.4 365.0L1007.6 362.9L1009.7 360.8L1011.9 358.7L1014.0 356.6L1016.2 354.5L1018.3 352.5L1020.5 350.4L1022.7 348.4L1024.9 346.4L1027.1 344.3L1029.3 342.3L1031.5 340.3L1033.7 338.3L1036.0 336.4L1038.2 334.4L1040.4 332.4L1042.7 330.5L1045.0 328.5L1047.3 326.6L1049.5 324.7L1051.8 322.8L1054.1 320.9L1056.5 319.0L1058.8 317.1L1061.1 315.2L1063.5 313.3L1065.9 311.4L1068.2 309.6L1070.6 307.7L1073.1 305.9L1075.5 304.0L1077.9 302.2L1080.4 300.4L1082.8 298.6L1085.3 296.8L1087.8 295.1L1090.3 293.3L1092.9 291.6L1095.4 290.0L1098.0 288.3L1100.6 286.7L1103.2 285.2L1105.8 283.6L1108.4 282.1L1111.1 280.7L1113.8 279.3L1116.5 277.9L1119.2 276.6L1122.0 275.4L1124.8 274.2L1127.5 273.1L1130.4 272.0L1133.2 271.0L1136.1 270.1L1139.0 269.2L1141.9 268.4L1144.8 267.6L1147.8 267.0L1150.7 266.4L1153.7 265.8L1156.7 265.4L1159.7 265.0L1162.7 264.6L1165.7 264.4L1168.7 264.2L1171.7 264.1L1174.7 264.0L1177.7 264.1L1180.7 264.2L1183.7 264.3L1186.6 264.6L1189.6 264.9L1192.5 265.3L1195.5 265.8L1198.4 266.4L1201.3 267.0L1204.2 267.7L1207.0 268.5L1209.8 269.3L1212.6 270.3L1215.4 271.3L1218.1 272.4L1220.8 273.5L1223.5 274.8L1226.2 276.1L1228.8 277.5L1231.3 279.0L1233.9 280.5L1236.4 282.1L1238.8 283.8L1241.3 285.5L1243.7 287.3L1246.1 289.1L1248.5 291.0L1250.8 292.9L1253.1 294.9L1255.4 296.9L1257.6 299.0L1259.8 301.1L1262.0 303.3L1264.2 305.4L1266.3 307.6L1268.5 309.9L1270.6 312.1L1272.6 314.4L1274.7 316.7L1276.7 319.1L1278.7 321.4L1280.7 323.8L1282.7 326.1L1284.6 328.5L1286.6 330.9L1288.5 333.3L1290.4 335.6L1292.2 338.0L1294.1 340.4L1295.9 342.8L1297.8 345.2L1299.6 347.6L1301.4 350.1L1303.2 352.5L1305.0 354.9L1306.7 357.3L1308.5 359.7L1310.2 362.1L1312.0 364.6L1313.7 367.0L1315.5 369.4L1317.2 371.9L1318.9 374.3L1320.6 376.7L1322.4 379.2L1324.1 381.6L1325.8 384.0L1327.5 386.5L1329.2 388.9L1331.0 391.4L1332.7 393.8" stroke="#00AB67" stroke-width="6"/>
<path d="M1332.7 393.8L1331.1 397.0L1329.4 400.0L1327.6 402.8L1325.7 405.4L1323.7 407.9L1321.6 410.1L1319.4 412.2L1317.1 414.0L1314.7 415.7L1312.3 417.2L1309.8 418.6L1307.2 419.8L1304.6 420.8L1301.9 421.7L1299.2 422.4L1296.5 422.9L1293.7 423.3L1290.9 423.6L1288.1 423.7L1285.3 423.6L1282.4 423.5L1279.6 423.2L1276.8 422.8L1273.9 422.2L1271.1 421.6L1268.3 420.8L1265.5 419.9L1262.7 419.0L1259.9 417.9L1257.1 416.8L1254.4 415.5L1251.6 414.3L1248.9 412.9L1246.2 411.5L1243.5 410.0L1240.9 408.5L1238.2 406.9L1235.6 405.3L1233.1 403.7L1230.5 402.1L1228.0 400.4L1225.5 398.7L1223.0 396.9L1220.6 395.2L1218.2 393.4L1215.8 391.6L1213.4 389.7L1211.0 387.9L1208.7 386.0L1206.4 384.1L1204.1 382.2L1201.8 380.3L1199.5 378.4L1197.2 376.4L1195.0 374.4L1192.8 372.4L1190.5 370.5L1188.3 368.4L1186.1 366.4L1183.9 364.4L1181.8 362.4L1179.6 360.3L1177.4 358.3L1175.2 356.2L1173.1 354.1L1170.9 352.1L1168.8 350.0L1166.6 347.9L1164.5 345.9L1162.3 343.8L1160.1 341.7L1158.0 339.6L1155.8 337.6L1153.6 335.5L1151.5 333.5L1149.3 331.4L1147.1 329.4L1144.9 327.3L1142.7 325.3L1140.5 323.3L1138.2 321.3L1136.0 319.3L1133.7 317.3L1131.5 315.3L1129.2 313.4L1126.9 311.4L1124.6 309.5L1122.2 307.6L1119.9 305.7L1117.5 303.8L1115.1 302.0L1112.7 300.1L1110.2 298.3L1107.8 296.5L1105.3 294.8L1102.8 293.0L1100.2 291.3L1097.7 289.7L1095.1 288.0L1092.5 286.4L1089.9 284.9L1087.3 283.4L1084.6 281.9L1081.9 280.5L1079.3 279.1L1076.5 277.7L1073.8 276.5L1071.1 275.2L1068.3 274.1L1065.5 273.0L1062.7 271.9L1059.9 270.9L1057.1 270.0L1054.3 269.1L1051.4 268.3L1048.5 267.6L1045.6 267.0L1042.7 266.4L1039.8 265.9L1036.9 265.5L1033.9 265.1L1031.0 264.9L1028.0 264.7L1025.1 264.6L1022.1 264.6L1019.1 264.7L1016.1 264.8L1013.1 265.0L1010.2 265.3L1007.2 265.7L1004.2 266.1L1001.3 266.6L998.4 267.2L995.4 267.9L992.5 268.6L989.7 269.4L986.8 270.3L984.0 271.3L981.2 272.3L978.4 273.4L975.6 274.5L972.9 275.7L970.2 277.0L967.6 278.4L965.0 279.8L962.4 281.3L959.9 282.9L957.4 284.5L955.0 286.1L952.5 287.9L950.2 289.6L947.8 291.5L945.5 293.3L943.2 295.3L941.0 297.2L938.7 299.2L936.5 301.3L934.4 303.4L932.3 305.5L930.2 307.7L928.1 309.9L926.0 312.1L924.0 314.4L922.0 316.7L920.0 319.0L918.1 321.3L916.1 323.6L914.2 326.0L912.4 328.4L910.5 330.8L908.6 333.2L906.8 335.6L905.0 338.0L903.2 340.5L901.4 342.9L899.7 345.4L897.9 347.8L896.1 350.2L894.4 352.6L892.6 355.0L890.8 357.4L889.0 359.8L887.2 362.2L885.4 364.5L883.5 366.8L881.6 369.1L879.7 371.4L877.8 373.6L875.8 375.8L873.8 378.0L871.7 380.1L869.6 382.2L867.4 384.2L865.2 386.2L862.9 388.1L860.5 390.0" stroke="#00AB67" stroke-width="6"/>
<path d="M803.2 227.2L803.7 230.2L804.3 233.2L804.9 236.2L805.4 239.2L806.0 242.2L806.5 245.1L807.1 248.1L807.7 251.0L808.3 254.0L808.9 256.9L809.5 259.8L810.1 262.7L810.7 265.6L811.4 268.5L812.0 271.4L812.7 274.3L813.4 277.2L814.1 280.1L814.8 282.9L815.5 285.8L816.2 288.7L817.0 291.5L817.7 294.4L818.5 297.2L819.3 300.0L820.1 302.9L821.0 305.7L821.8 308.5L822.7 311.4L823.6 314.2L824.5 317.0L825.4 319.9L826.4 322.7L827.4 325.5L828.4 328.3L829.4 331.2L830.5 334.0L831.6 336.8L832.7 339.7L833.8 342.5L835.0 345.3L836.2 348.2L837.4 351.0L838.7 353.8L840.0 356.6L841.3 359.5L842.7 362.3L844.1 365.0L845.6 367.8L847.1 370.5L848.6 373.2L850.2 375.8L851.9 378.5L853.6 381.0L855.4 383.5L857.3 386.0L859.2 388.4L861.2 390.7L863.2 392.9L865.4 395.1L867.5 397.2L869.8 399.2L872.1 401.1L874.5 403.0L876.9 404.7L879.3 406.3L881.8 407.8L884.3 409.1L886.9 410.4L889.5 411.5L892.1 412.5L894.8 413.3L897.5 414.0L900.2 414.6L902.9 415.0L905.6 415.3L908.4 415.5L911.2 415.6L913.9 415.6L916.7 415.5L919.5 415.2L922.4 414.9L925.2 414.4L928.0 413.9L930.8 413.3L933.7 412.6L936.5 411.8L939.4 410.9L942.2 409.9L945.0 408.9L947.9 407.8L950.7 406.6L953.5 405.4L956.3 404.1L959.1 402.7L961.9 401.3L964.7 399.9L967.4 398.4L970.1 396.9L972.9 395.3L975.5 393.7L978.2 392.0L980.9 390.4L983.5 388.7L986.1 387.0L988.7 385.2L991.2 383.5L993.7 381.7L996.2 379.9L998.6 378.2L1001.1 376.4L1003.5 374.6L1005.9 372.7L1008.2 370.9L1010.6 369.1L1012.9 367.3L1015.2 365.4L1017.5 363.6L1019.8 361.7L1022.1 359.8L1024.4 357.9L1026.6 356.1L1028.9 354.2L1031.1 352.3L1033.4 350.4L1035.6 348.5L1037.9 346.6L1040.1 344.7L1042.4 342.8L1044.6 340.9L1046.9 339.0L1049.1 337.1L1051.4 335.2L1053.7 333.2L1056.0 331.3L1058.3 329.4L1060.7 327.5L1063.0 325.6L1065.4 323.7L1067.8 321.8L1070.2 320.0L1072.6 318.1L1075.0 316.2L1077.5 314.4L1079.9 312.6L1082.4 310.8L1084.9 309.0L1087.4 307.3L1089.9 305.5L1092.5 303.8L1095.0 302.1L1097.6 300.5L1100.2 298.9L1102.8 297.3L1105.4 295.8L1108.0 294.2L1110.7 292.8L1113.3 291.3L1116.0 290.0L1118.7 288.6L1121.4 287.3L1124.2 286.1L1126.9 284.9L1129.7 283.8L1132.4 282.7L1135.2 281.6L1138.0 280.7L1140.8 279.8L1143.7 278.9L1146.5 278.1L1149.4 277.4L1152.3 276.7L1155.2 276.2L1158.1 275.6L1161.0 275.2L1163.9 274.8L1166.9 274.5L1169.8 274.3L1172.7 274.2L1175.7 274.1L1178.6 274.2L1181.6 274.3L1184.5 274.5L1187.4 274.8L1190.3 275.1L1193.2 275.6L1196.1 276.2L1199.0 276.8L1201.9 277.6L1204.7 278.4L1207.6 279.3L1210.4 280.2L1213.2 281.3L1216.0 282.4L1218.8 283.6L1221.6 284.8L1224.3 286.1L1227.0 287.4L1229.7 288.8L1232.4 290.3L1235.1 291.7L1237.7 293.2L1240.4 294.8L1243.0 296.4L1245.6 298.0L1248.1 299.6L1250.7 301.3L1253.2 303.0L1255.7 304.7L1258.1 306.4L1260.6 308.2L1263.0 310.0L1265.4 311.8L1267.8 313.6L1270.2 315.4L1272.5 317.3L1274.8 319.2L1277.1 321.1L1279.4 323.1L1281.7 325.0L1283.9 327.0L1286.1 329.0L1288.3 331.0L1290.5 333.0L1292.7 335.1L1294.8 337.2L1297.0 339.2L1299.1 341.4L1301.2 343.5L1303.3 345.6L1305.3 347.8L1307.4 350.0L1309.4 352.2L1311.4 354.4L1313.4 356.6L1315.4 358.8L1317.4 361.1L1319.3 363.3L1321.2 365.6L1323.2 367.9L1325.1 370.2L1326.9 372.6L1328.8 374.9L1330.7 377.2L1332.5 379.6L1334.4 382.0L1336.2 384.4L1338.0 386.7L1339.8 389.2L1341.6 391.6L1343.4 394.0L1345.1 396.4L1346.9 398.9L1348.6 401.3L1350.3 403.8L1352.0 406.3L1353.7 408.7L1355.4 411.2L1357.1 413.7L1358.8 416.2L1360.4 418.7L1362.1 421.2L1363.7 423.7L1365.4 426.3L1367.0 428.8L1368.6 431.3L1370.2 433.9L1371.8 436.4L1373.4 439.0L1375.0 441.5L1376.6 444.1L1378.2 446.6L1379.7 449.2L1381.3 451.7L1382.8 454.3L1384.4 456.9L1385.9 459.4L1387.4 462.0L1389.0 464.6L1390.5 467.1L1392.0 469.7" stroke="#C576E0" stroke-width="6"/>
<path d="M803.1 470.8L804.1 474.1L805.3 477.2L806.6 480.2L808.0 483.1L809.6 485.8L811.3 488.4L813.2 490.8L815.1 493.1L817.2 495.2L819.3 497.2L821.6 499.1L823.9 500.8L826.4 502.4L828.9 503.8L831.4 505.1L834.0 506.3L836.7 507.3L839.4 508.2L842.2 509.0L845.0 509.6L847.8 510.1L850.6 510.5L853.5 510.7L856.3 510.9L859.1 510.8L862.0 510.7L864.8 510.4L867.6 510.1L870.5 509.6L873.3 509.0L876.1 508.3L878.8 507.5L881.6 506.6L884.4 505.6L887.1 504.5L889.9 503.3L892.6 502.1L895.3 500.7L898.0 499.4L900.7 497.9L903.3 496.4L906.0 494.8L908.6 493.2L911.2 491.5L913.8 489.8L916.4 488.0L918.9 486.2L921.4 484.4L924.0 482.5L926.4 480.7L928.9 478.8L931.4 476.8L933.8 474.9L936.2 473.0L938.5 471.0L940.9 469.1L943.2 467.1L945.6 465.1L947.8 463.1L950.1 461.1L952.4 459.1L954.6 457.1L956.9 455.0L959.1 453.0L961.3 450.9L963.4 448.9L965.6 446.8L967.8 444.7L969.9 442.6L972.0 440.5L974.1 438.4L976.3 436.3L978.3 434.2L980.4 432.1L982.5 429.9L984.6 427.8L986.6 425.7L988.7 423.5L990.7 421.4L992.8 419.2L994.8 417.1L996.9 414.9L998.9 412.8L1000.9 410.6L1002.9 408.4L1005.0 406.2L1007.0 404.1L1009.0 401.9L1011.0 399.7L1013.0 397.5L1015.1 395.4L1017.1 393.2L1019.1 391.0L1021.1 388.8L1023.2 386.7L1025.2 384.5L1027.2 382.3L1029.3 380.1L1031.3 378.0L1033.4 375.8L1035.5 373.6L1037.5 371.5L1039.6 369.3L1041.7 367.1L1043.8 365.0L1045.9 362.8L1048.1 360.7L1050.2 358.5L1052.4 356.4L1054.5 354.3L1056.7 352.1L1058.9 350.0L1061.1 347.9L1063.3 345.8L1065.6 343.7L1067.8 341.6L1070.1 339.5L1072.4 337.4L1074.7 335.4L1077.0 333.4L1079.3 331.3L1081.7 329.3L1084.1 327.4L1086.5 325.4L1088.9 323.5L1091.3 321.6L1093.7 319.7L1096.2 317.8L1098.6 316.0L1101.1 314.2L1103.6 312.5L1106.1 310.7L1108.7 309.1L1111.2 307.4L1113.8 305.8L1116.3 304.2L1118.9 302.7L1121.6 301.2L1124.2 299.8L1126.8 298.4L1129.5 297.1L1132.2 295.8L1134.9 294.6L1137.6 293.4L1140.3 292.3L1143.1 291.2L1145.9 290.2L1148.7 289.3L1151.5 288.4L1154.3 287.6L1157.1 286.8L1160.0 286.1L1162.8 285.5L1165.7 285.0L1168.6 284.5L1171.5 284.1L1174.5 283.7L1177.4 283.5L1180.3 283.3L1183.3 283.2L1186.2 283.2L1189.2 283.2L1192.1 283.3L1195.1 283.5L1198.0 283.8L1200.9 284.2L1203.9 284.6L1206.8 285.1L1209.7 285.8L1212.6 286.5L1215.4 287.2L1218.3 288.1L1221.2 289.0L1224.0 290.0L1226.8 291.1L1229.6 292.3L1232.4 293.5L1235.1 294.8L1237.9 296.1L1240.6 297.5L1243.3 298.9L1246.0 300.4L1248.6 301.9L1251.2 303.5L1253.9 305.1L1256.4 306.8L1259.0 308.5L1261.5 310.2L1264.0 311.9L1266.5 313.7L1268.9 315.5L1271.4 317.3L1273.8 319.2L1276.1 321.0L1278.5 322.9L1280.8 324.9L1283.1 326.8L1285.4 328.8L1287.6 330.8L1289.8 332.8L1292.1 334.8L1294.2 336.9L1296.4 339.0L1298.5 341.1L1300.7 343.2L1302.8 345.3L1304.8 347.5L1306.9 349.7L1308.9 351.9L1311.0 354.1L1313.0 356.3L1315.0 358.6L1316.9 360.8L1318.9 363.1L1320.8 365.4L1322.7 367.7L1324.6 370.0L1326.5 372.4L1328.4 374.7L1330.2 377.1L1332.1 379.5L1333.9 381.9L1335.7 384.3L1337.5 386.7L1339.3 389.1L1341.1 391.5L1342.9 394.0L1344.6 396.4L1346.3 398.9L1348.1 401.4L1349.8 403.9L1351.5 406.4L1353.2 408.9L1354.9 411.4L1356.6 413.9L1358.2 416.4L1359.9 418.9L1361.5 421.4L1363.2 424.0L1364.8 426.5L1366.5 429.0L1368.1 431.6L1369.7 434.1L1371.3 436.6L1372.9 439.2L1374.5 441.7L1376.1 444.3L1377.7 446.8L1379.3 449.4L1380.9 451.9L1382.5 454.5L1384.1 457.0L1385.7 459.6L1387.3 462.1L1388.8 464.6L1390.4 467.2L1392.0 469.7" stroke="#C576E0" stroke-width="6"/>
<path d="M1392.0 469.7L1390.9 472.9L1389.6 476.0L1388.2 479.0L1386.7 481.8L1385.0 484.5L1383.2 487.0L1381.3 489.3L1379.2 491.6L1377.1 493.6L1374.9 495.6L1372.6 497.4L1370.2 499.1L1367.7 500.6L1365.1 502.0L1362.5 503.3L1359.9 504.4L1357.2 505.5L1354.4 506.3L1351.6 507.1L1348.8 507.7L1346.0 508.3L1343.1 508.6L1340.3 508.9L1337.4 509.1L1334.5 509.1L1331.7 509.0L1328.9 508.8L1326.1 508.5L1323.3 508.1L1320.5 507.6L1317.8 507.0L1315.0 506.3L1312.3 505.5L1309.6 504.6L1306.9 503.6L1304.2 502.5L1301.6 501.4L1298.9 500.2L1296.3 498.9L1293.7 497.5L1291.1 496.1L1288.5 494.6L1286.0 493.0L1283.4 491.4L1280.9 489.7L1278.4 487.9L1275.9 486.2L1273.4 484.3L1271.0 482.5L1268.5 480.6L1266.1 478.6L1263.7 476.6L1261.3 474.6L1258.9 472.6L1256.5 470.5L1254.2 468.5L1251.8 466.4L1249.5 464.3L1247.2 462.1L1244.9 460.0L1242.6 457.9L1240.3 455.8L1238.1 453.6L1235.8 451.5L1233.6 449.4L1231.4 447.3L1229.2 445.1L1227.0 443.0L1224.8 440.9L1222.7 438.8L1220.5 436.7L1218.4 434.6L1216.2 432.5L1214.1 430.4L1212.0 428.3L1209.9 426.2L1207.8 424.1L1205.7 422.0L1203.6 419.9L1201.5 417.8L1199.4 415.7L1197.3 413.6L1195.3 411.5L1193.2 409.4L1191.1 407.3L1189.1 405.2L1187.0 403.1L1185.0 401.0L1182.9 398.9L1180.8 396.8L1178.8 394.7L1176.7 392.6L1174.7 390.5L1172.6 388.4L1170.6 386.3L1168.5 384.2L1166.5 382.1L1164.4 380.0L1162.3 377.9L1160.3 375.8L1158.2 373.6L1156.1 371.5L1154.0 369.4L1152.0 367.3L1149.9 365.2L1147.8 363.0L1145.7 360.9L1143.5 358.8L1141.4 356.7L1139.3 354.6L1137.1 352.4L1135.0 350.3L1132.8 348.3L1130.6 346.2L1128.4 344.1L1126.2 342.0L1124.0 340.0L1121.7 338.0L1119.5 335.9L1117.2 333.9L1114.9 331.9L1112.6 330.0L1110.3 328.0L1108.0 326.1L1105.6 324.2L1103.2 322.3L1100.8 320.4L1098.4 318.6L1095.9 316.8L1093.5 315.0L1091.0 313.2L1088.5 311.5L1085.9 309.8L1083.4 308.2L1080.8 306.5L1078.2 304.9L1075.5 303.4L1072.9 301.9L1070.2 300.4L1067.5 299.0L1064.8 297.6L1062.0 296.2L1059.3 294.9L1056.5 293.7L1053.7 292.5L1051.0 291.3L1048.1 290.3L1045.3 289.2L1042.5 288.2L1039.7 287.3L1036.8 286.5L1033.9 285.7L1031.1 285.0L1028.2 284.3L1025.3 283.7L1022.4 283.2L1019.5 282.8L1016.7 282.4L1013.8 282.1L1010.9 281.9L1008.0 281.7L1005.1 281.7L1002.2 281.7L999.3 281.8L996.4 282.0L993.5 282.3L990.6 282.7L987.7 283.1L984.9 283.7L982.0 284.3L979.1 285.0L976.3 285.8L973.5 286.6L970.6 287.6L967.8 288.6L965.0 289.6L962.3 290.8L959.5 292.0L956.8 293.3L954.0 294.6L951.4 296.0L948.7 297.5L946.0 299.0L943.4 300.5L940.8 302.1L938.2 303.8L935.7 305.5L933.1 307.2L930.7 309.0L928.2 310.9L925.8 312.7L923.4 314.6L921.0 316.6L918.7 318.5L916.4 320.5L914.2 322.6L912.0 324.6L909.8 326.7L907.6 328.8L905.5 330.9L903.4 333.1L901.4 335.3L899.3 337.5L897.3 339.7L895.4 341.9L893.4 344.2L891.5 346.4L889.5 348.7L887.7 351.0L885.8 353.3L883.9 355.7L882.1 358.0L880.2 360.4L878.4 362.7L876.6 365.1L874.8 367.5L873.0 369.9L871.2 372.3L869.5 374.7L867.7 377.1L865.9 379.5L864.2 381.9L862.4 384.3L860.6 386.7L858.9 389.1L857.1 391.6L855.3 394.0L853.5 396.4L851.7 398.8L850.0 401.2L848.2 403.6L846.4 406.0L844.6 408.4L842.8 410.8L841.0 413.2L839.2 415.6L837.4 418.0L835.6 420.4L833.8 422.9L832.1 425.3L830.3 427.7L828.5 430.1L826.8 432.6L825.1 435.0L823.4 437.5L821.7 440.0L820.0 442.5L818.3 445.0L816.7 447.5L815.1 450.0L813.5 452.5L811.9 455.1L810.4 457.7L808.9 460.3L807.4 462.9L805.9 465.5L804.5 468.1L803.1 470.8" stroke="#C576E0" stroke-width="6"/>
</g>
<rect x="312.5" y="75.5" width="1572" height="1265" fill="none" stroke="#000" stroke-width="5"/>
<path d="M469.6 1338V1315M469.6 78V101M626.7 1338V1328M626.7 78V88M783.8 1338V1315M783.8 78V101M940.9 1338V1328M940.9 78V88M1098.0 1338V1315M1098.0 78V101M1255.1 1338V1328M1255.1 78V88M1412.2 1338V1315M1412.2 78V101M1569.3 1338V1328M1569.3 78V88M1726.4 1338V1315M1726.4 78V101M315 1249.7H324M1882 1249.7H1872M315 1159.4H336M1882 1159.4H1859M315 1069.1H324M1882 1069.1H1872M315 978.8H336M1882 978.8H1859M315 888.5H324M1882 888.5H1872M315 798.2H336M1882 798.2H1859M315 708.0H324M1882 708.0H1872M315 617.7H336M1882 617.7H1859M315 527.4H324M1882 527.4H1872M315 437.1H336M1882 437.1H1859M315 346.8H324M1882 346.8H1872M315 256.5H336M1882 256.5H1859M315 166.2H324M1882 166.2H1872" stroke="#000" stroke-width="5" fill="none"/>
<g font-size="113" clip-path="url(#nofoot)"><text x="284" y="1373.0" text-anchor="end">3</text><text x="284" y="1192.4" text-anchor="end">4</text><text x="284" y="1011.8" text-anchor="end">5</text><text x="284" y="831.2" text-anchor="end">6</text><text x="284" y="650.7" text-anchor="end">7</text><text x="284" y="470.1" text-anchor="end">8</text><text x="284" y="289.5" text-anchor="end">9</text><text x="284" y="108.9" text-anchor="end">10</text><text x="469.6" y="1454" text-anchor="middle">-4</text><text x="783.8" y="1454" text-anchor="middle">-2</text><text x="1098.0" y="1454" text-anchor="middle">0</text><text x="1412.2" y="1454" text-anchor="middle">2</text><text x="1726.4" y="1454" text-anchor="middle">4</text></g>
<rect x="343" y="116" width="1498" height="54" fill="none" stroke="#000" stroke-width="2"/>
<path d="M361.0 143H468.0" stroke="#515151" stroke-width="6" stroke-linecap="round"/>
<text x="481.5" y="160" font-size="48" clip-path="url(#nofoot)">slope 1</text>
<path d="M657.9 143H764.9" stroke="#FF4245" stroke-width="6" stroke-linecap="round"/>
<text x="778.4" y="160" font-size="48">slope 2</text>
<path d="M954.8 143H1061.8" stroke="#016CE3" stroke-width="6" stroke-linecap="round"/>
<text x="1075.3" y="160" font-size="48">slope 3</text>
<path d="M1251.7 143H1358.7" stroke="#00AB67" stroke-width="6" stroke-linecap="round"/>
<text x="1372.2" y="160" font-size="48">slope 4</text>
<path d="M1548.6 143H1655.6" stroke="#C576E0" stroke-width="6" stroke-linecap="round"/>
<text x="1669.1" y="160" font-size="48">slope 5</text>
<g font-size="133" text-anchor="middle">
<text transform="translate(127 812.5) rotate(-90)">M</text>
<text transform="translate(127 701.5) rotate(-90)">(</text>
<text transform="translate(127 648.0) rotate(-90)">k</text>
<text transform="translate(127 562.2) rotate(-90) scale(1.126 1)" style="font-family:'Liberation Serif',serif">&#937;</text>
<text transform="translate(127 484.5) rotate(-90)">)</text>
</g>
<text x="873" y="1609.5" font-size="132"><tspan font-size="123">I</tspan><tspan font-size="118" dy="36">in</tspan><tspan dy="-36"> (mA</tspan><tspan dx="6">)</tspan></text>
</svg>
</body></html>
